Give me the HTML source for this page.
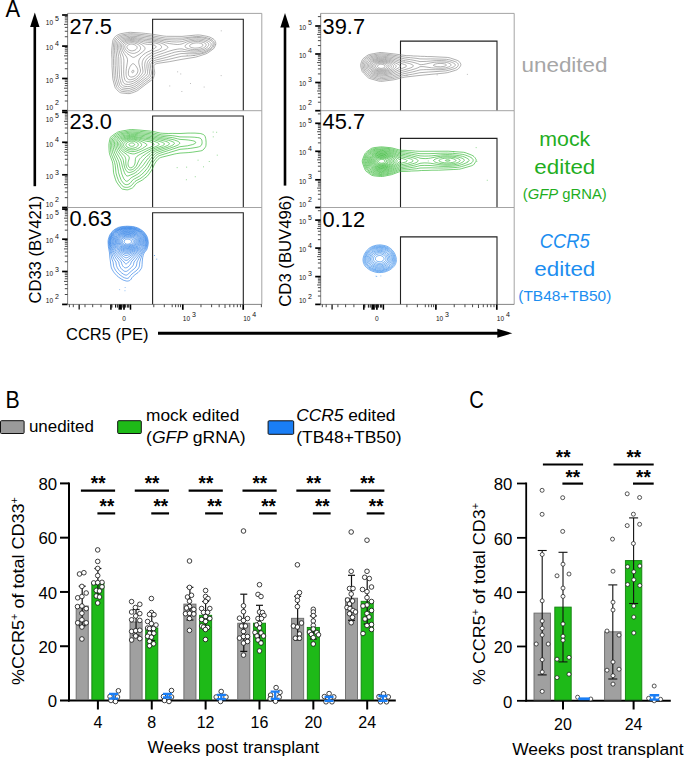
<!DOCTYPE html>
<html><head><meta charset="utf-8"><style>
html,body{margin:0;padding:0;background:#fff;width:685px;height:759px;overflow:hidden}
svg{display:block;font-family:"Liberation Sans", sans-serif}
</style></head><body>
<svg width="685" height="759" viewBox="0 0 685 759">
<text x="5.60" y="16.90" font-size="24.5" text-anchor="start" fill="#000" textLength="14.6" lengthAdjust="spacingAndGlyphs" >A</text>
<line x1="34.80" y1="186.20" x2="34.80" y2="24.60" stroke="#000" stroke-width="2.6" />
<polygon points="34.80,12.60 30.10,27.10 39.50,27.10" fill="#000"/>
<line x1="285.00" y1="185.60" x2="285.00" y2="25.10" stroke="#000" stroke-width="2.6" />
<polygon points="285.00,13.10 280.30,27.60 289.70,27.60" fill="#000"/>
<line x1="158.00" y1="333.20" x2="500.00" y2="333.20" stroke="#000" stroke-width="3" />
<polygon points="512.3,333.2 497.3,328.7 497.3,337.7" fill="#000"/>
<text x="66.00" y="340.00" font-size="16.6" text-anchor="start" fill="#000" textLength="82.6" lengthAdjust="spacingAndGlyphs" >CCR5 (PE)</text>
<text x="41.50" y="249.60" font-size="16.3" text-anchor="middle" fill="#000" textLength="108" lengthAdjust="spacingAndGlyphs" transform="rotate(-90 41.50 249.60)" >CD33 (BV421)</text>
<text x="291.20" y="251.00" font-size="16.3" text-anchor="middle" fill="#000" textLength="111.5" lengthAdjust="spacingAndGlyphs" transform="rotate(-90 291.20 251.00)" >CD3 (BUV496)</text>
<line x1="67.60" y1="13.40" x2="261.80" y2="13.40" stroke="#9a9a9a" stroke-width="0.9" />
<line x1="261.80" y1="13.40" x2="261.80" y2="110.70" stroke="#9a9a9a" stroke-width="0.9" />
<line x1="67.60" y1="13.40" x2="67.60" y2="110.70" stroke="#777" stroke-width="0.9" />
<line x1="62.10" y1="15.00" x2="67.60" y2="15.00" stroke="#000" stroke-width="1.7" />
<text x="45.80" y="25.00" font-size="6.5" fill="#111">10</text>
<text x="54.90" y="20.60" font-size="7" fill="#111">5</text>
<line x1="62.10" y1="46.10" x2="67.60" y2="46.10" stroke="#000" stroke-width="1.7" />
<text x="45.80" y="50.30" font-size="6.5" fill="#111">10</text>
<text x="54.90" y="45.90" font-size="7" fill="#111">4</text>
<line x1="62.10" y1="78.50" x2="67.60" y2="78.50" stroke="#000" stroke-width="1.7" />
<text x="45.80" y="82.90" font-size="6.5" fill="#111">10</text>
<text x="54.90" y="78.50" font-size="7" fill="#111">3</text>
<line x1="62.10" y1="110.70" x2="67.60" y2="110.70" stroke="#000" stroke-width="1.7" />
<text x="45.80" y="109.70" font-size="6.5" fill="#111">10</text>
<text x="54.90" y="105.30" font-size="7" fill="#111">2</text>
<line x1="64.80" y1="36.74" x2="67.60" y2="36.74" stroke="#333" stroke-width="0.9" />
<line x1="64.80" y1="31.26" x2="67.60" y2="31.26" stroke="#333" stroke-width="0.9" />
<line x1="64.80" y1="27.38" x2="67.60" y2="27.38" stroke="#333" stroke-width="0.9" />
<line x1="64.00" y1="24.36" x2="67.60" y2="24.36" stroke="#333" stroke-width="0.9" />
<line x1="64.80" y1="21.90" x2="67.60" y2="21.90" stroke="#333" stroke-width="0.9" />
<line x1="64.80" y1="19.82" x2="67.60" y2="19.82" stroke="#333" stroke-width="0.9" />
<line x1="64.80" y1="18.01" x2="67.60" y2="18.01" stroke="#333" stroke-width="0.9" />
<line x1="64.80" y1="16.42" x2="67.60" y2="16.42" stroke="#333" stroke-width="0.9" />
<line x1="64.80" y1="68.75" x2="67.60" y2="68.75" stroke="#333" stroke-width="0.9" />
<line x1="64.80" y1="63.04" x2="67.60" y2="63.04" stroke="#333" stroke-width="0.9" />
<line x1="64.80" y1="58.99" x2="67.60" y2="58.99" stroke="#333" stroke-width="0.9" />
<line x1="64.00" y1="55.85" x2="67.60" y2="55.85" stroke="#333" stroke-width="0.9" />
<line x1="64.80" y1="53.29" x2="67.60" y2="53.29" stroke="#333" stroke-width="0.9" />
<line x1="64.80" y1="51.12" x2="67.60" y2="51.12" stroke="#333" stroke-width="0.9" />
<line x1="64.80" y1="49.24" x2="67.60" y2="49.24" stroke="#333" stroke-width="0.9" />
<line x1="64.80" y1="47.58" x2="67.60" y2="47.58" stroke="#333" stroke-width="0.9" />
<line x1="64.80" y1="101.01" x2="67.60" y2="101.01" stroke="#333" stroke-width="0.9" />
<line x1="64.80" y1="95.34" x2="67.60" y2="95.34" stroke="#333" stroke-width="0.9" />
<line x1="64.80" y1="91.31" x2="67.60" y2="91.31" stroke="#333" stroke-width="0.9" />
<line x1="64.00" y1="88.19" x2="67.60" y2="88.19" stroke="#333" stroke-width="0.9" />
<line x1="64.80" y1="85.64" x2="67.60" y2="85.64" stroke="#333" stroke-width="0.9" />
<line x1="64.80" y1="83.49" x2="67.60" y2="83.49" stroke="#333" stroke-width="0.9" />
<line x1="64.80" y1="81.62" x2="67.60" y2="81.62" stroke="#333" stroke-width="0.9" />
<line x1="64.80" y1="79.97" x2="67.60" y2="79.97" stroke="#333" stroke-width="0.9" />
<polyline points="152.60,110.70 152.60,19.30 243.30,19.30 243.30,110.70" fill="none" stroke="#222" stroke-width="1.1"/>
<text x="69.50" y="33.60" font-size="21.8" text-anchor="start" fill="#000" >27.5</text>
<line x1="320.70" y1="13.40" x2="514.20" y2="13.40" stroke="#9a9a9a" stroke-width="0.9" />
<line x1="514.20" y1="13.40" x2="514.20" y2="110.70" stroke="#9a9a9a" stroke-width="0.9" />
<line x1="320.70" y1="13.40" x2="320.70" y2="110.70" stroke="#777" stroke-width="0.9" />
<line x1="315.20" y1="26.00" x2="320.70" y2="26.00" stroke="#000" stroke-width="1.7" />
<text x="298.90" y="29.80" font-size="6.5" fill="#111">10</text>
<text x="308.00" y="25.40" font-size="7" fill="#111">5</text>
<line x1="315.20" y1="54.00" x2="320.70" y2="54.00" stroke="#000" stroke-width="1.7" />
<text x="298.90" y="57.80" font-size="6.5" fill="#111">10</text>
<text x="308.00" y="53.40" font-size="7" fill="#111">4</text>
<line x1="315.20" y1="82.50" x2="320.70" y2="82.50" stroke="#000" stroke-width="1.7" />
<text x="298.90" y="86.30" font-size="6.5" fill="#111">10</text>
<text x="308.00" y="81.90" font-size="7" fill="#111">3</text>
<line x1="315.20" y1="110.70" x2="320.70" y2="110.70" stroke="#000" stroke-width="1.7" />
<text x="298.90" y="109.70" font-size="6.5" fill="#111">10</text>
<text x="308.00" y="105.30" font-size="7" fill="#111">2</text>
<line x1="317.90" y1="45.57" x2="320.70" y2="45.57" stroke="#333" stroke-width="0.9" />
<line x1="317.90" y1="40.64" x2="320.70" y2="40.64" stroke="#333" stroke-width="0.9" />
<line x1="317.90" y1="37.14" x2="320.70" y2="37.14" stroke="#333" stroke-width="0.9" />
<line x1="317.10" y1="34.43" x2="320.70" y2="34.43" stroke="#333" stroke-width="0.9" />
<line x1="317.90" y1="32.21" x2="320.70" y2="32.21" stroke="#333" stroke-width="0.9" />
<line x1="317.90" y1="30.34" x2="320.70" y2="30.34" stroke="#333" stroke-width="0.9" />
<line x1="317.90" y1="28.71" x2="320.70" y2="28.71" stroke="#333" stroke-width="0.9" />
<line x1="317.90" y1="27.28" x2="320.70" y2="27.28" stroke="#333" stroke-width="0.9" />
<line x1="317.90" y1="73.92" x2="320.70" y2="73.92" stroke="#333" stroke-width="0.9" />
<line x1="317.90" y1="68.90" x2="320.70" y2="68.90" stroke="#333" stroke-width="0.9" />
<line x1="317.90" y1="65.34" x2="320.70" y2="65.34" stroke="#333" stroke-width="0.9" />
<line x1="317.10" y1="62.58" x2="320.70" y2="62.58" stroke="#333" stroke-width="0.9" />
<line x1="317.90" y1="60.32" x2="320.70" y2="60.32" stroke="#333" stroke-width="0.9" />
<line x1="317.90" y1="58.41" x2="320.70" y2="58.41" stroke="#333" stroke-width="0.9" />
<line x1="317.90" y1="56.76" x2="320.70" y2="56.76" stroke="#333" stroke-width="0.9" />
<line x1="317.90" y1="55.30" x2="320.70" y2="55.30" stroke="#333" stroke-width="0.9" />
<line x1="317.90" y1="102.21" x2="320.70" y2="102.21" stroke="#333" stroke-width="0.9" />
<line x1="317.90" y1="97.25" x2="320.70" y2="97.25" stroke="#333" stroke-width="0.9" />
<line x1="317.90" y1="93.72" x2="320.70" y2="93.72" stroke="#333" stroke-width="0.9" />
<line x1="317.10" y1="90.99" x2="320.70" y2="90.99" stroke="#333" stroke-width="0.9" />
<line x1="317.90" y1="88.76" x2="320.70" y2="88.76" stroke="#333" stroke-width="0.9" />
<line x1="317.90" y1="86.87" x2="320.70" y2="86.87" stroke="#333" stroke-width="0.9" />
<line x1="317.90" y1="85.23" x2="320.70" y2="85.23" stroke="#333" stroke-width="0.9" />
<line x1="317.90" y1="83.79" x2="320.70" y2="83.79" stroke="#333" stroke-width="0.9" />
<line x1="317.90" y1="16.60" x2="320.70" y2="16.60" stroke="#333" stroke-width="0.9" />
<polyline points="400.50,110.70 400.50,41.10 497.00,41.10 497.00,110.70" fill="none" stroke="#222" stroke-width="1.1"/>
<text x="322.60" y="33.70" font-size="21.8" text-anchor="start" fill="#000" >39.7</text>
<line x1="67.60" y1="110.70" x2="261.80" y2="110.70" stroke="#9a9a9a" stroke-width="0.9" />
<line x1="261.80" y1="110.70" x2="261.80" y2="207.50" stroke="#9a9a9a" stroke-width="0.9" />
<line x1="67.60" y1="110.70" x2="67.60" y2="207.50" stroke="#777" stroke-width="0.9" />
<line x1="62.10" y1="112.30" x2="67.60" y2="112.30" stroke="#000" stroke-width="1.7" />
<text x="45.80" y="122.30" font-size="6.5" fill="#111">10</text>
<text x="54.90" y="117.90" font-size="7" fill="#111">5</text>
<line x1="62.10" y1="142.30" x2="67.60" y2="142.30" stroke="#000" stroke-width="1.7" />
<text x="45.80" y="146.50" font-size="6.5" fill="#111">10</text>
<text x="54.90" y="142.10" font-size="7" fill="#111">4</text>
<line x1="62.10" y1="174.80" x2="67.60" y2="174.80" stroke="#000" stroke-width="1.7" />
<text x="45.80" y="179.20" font-size="6.5" fill="#111">10</text>
<text x="54.90" y="174.80" font-size="7" fill="#111">3</text>
<line x1="62.10" y1="207.50" x2="67.60" y2="207.50" stroke="#000" stroke-width="1.7" />
<text x="45.80" y="206.50" font-size="6.5" fill="#111">10</text>
<text x="54.90" y="202.10" font-size="7" fill="#111">2</text>
<line x1="64.80" y1="133.27" x2="67.60" y2="133.27" stroke="#333" stroke-width="0.9" />
<line x1="64.80" y1="127.99" x2="67.60" y2="127.99" stroke="#333" stroke-width="0.9" />
<line x1="64.80" y1="124.24" x2="67.60" y2="124.24" stroke="#333" stroke-width="0.9" />
<line x1="64.00" y1="121.33" x2="67.60" y2="121.33" stroke="#333" stroke-width="0.9" />
<line x1="64.80" y1="118.96" x2="67.60" y2="118.96" stroke="#333" stroke-width="0.9" />
<line x1="64.80" y1="116.95" x2="67.60" y2="116.95" stroke="#333" stroke-width="0.9" />
<line x1="64.80" y1="115.21" x2="67.60" y2="115.21" stroke="#333" stroke-width="0.9" />
<line x1="64.80" y1="113.67" x2="67.60" y2="113.67" stroke="#333" stroke-width="0.9" />
<line x1="64.80" y1="165.02" x2="67.60" y2="165.02" stroke="#333" stroke-width="0.9" />
<line x1="64.80" y1="159.29" x2="67.60" y2="159.29" stroke="#333" stroke-width="0.9" />
<line x1="64.80" y1="155.23" x2="67.60" y2="155.23" stroke="#333" stroke-width="0.9" />
<line x1="64.00" y1="152.08" x2="67.60" y2="152.08" stroke="#333" stroke-width="0.9" />
<line x1="64.80" y1="149.51" x2="67.60" y2="149.51" stroke="#333" stroke-width="0.9" />
<line x1="64.80" y1="147.33" x2="67.60" y2="147.33" stroke="#333" stroke-width="0.9" />
<line x1="64.80" y1="145.45" x2="67.60" y2="145.45" stroke="#333" stroke-width="0.9" />
<line x1="64.80" y1="143.79" x2="67.60" y2="143.79" stroke="#333" stroke-width="0.9" />
<line x1="64.80" y1="197.66" x2="67.60" y2="197.66" stroke="#333" stroke-width="0.9" />
<line x1="64.80" y1="191.90" x2="67.60" y2="191.90" stroke="#333" stroke-width="0.9" />
<line x1="64.80" y1="187.81" x2="67.60" y2="187.81" stroke="#333" stroke-width="0.9" />
<line x1="64.00" y1="184.64" x2="67.60" y2="184.64" stroke="#333" stroke-width="0.9" />
<line x1="64.80" y1="182.05" x2="67.60" y2="182.05" stroke="#333" stroke-width="0.9" />
<line x1="64.80" y1="179.87" x2="67.60" y2="179.87" stroke="#333" stroke-width="0.9" />
<line x1="64.80" y1="177.97" x2="67.60" y2="177.97" stroke="#333" stroke-width="0.9" />
<line x1="64.80" y1="176.30" x2="67.60" y2="176.30" stroke="#333" stroke-width="0.9" />
<polyline points="152.60,207.50 152.60,116.00 243.30,116.00 243.30,207.50" fill="none" stroke="#222" stroke-width="1.1"/>
<text x="69.50" y="129.00" font-size="21.8" text-anchor="start" fill="#000" >23.0</text>
<line x1="320.70" y1="110.70" x2="514.20" y2="110.70" stroke="#9a9a9a" stroke-width="0.9" />
<line x1="514.20" y1="110.70" x2="514.20" y2="207.50" stroke="#9a9a9a" stroke-width="0.9" />
<line x1="320.70" y1="110.70" x2="320.70" y2="207.50" stroke="#777" stroke-width="0.9" />
<line x1="315.20" y1="123.30" x2="320.70" y2="123.30" stroke="#000" stroke-width="1.7" />
<text x="298.90" y="127.10" font-size="6.5" fill="#111">10</text>
<text x="308.00" y="122.70" font-size="7" fill="#111">5</text>
<line x1="315.20" y1="151.30" x2="320.70" y2="151.30" stroke="#000" stroke-width="1.7" />
<text x="298.90" y="155.10" font-size="6.5" fill="#111">10</text>
<text x="308.00" y="150.70" font-size="7" fill="#111">4</text>
<line x1="315.20" y1="179.80" x2="320.70" y2="179.80" stroke="#000" stroke-width="1.7" />
<text x="298.90" y="183.60" font-size="6.5" fill="#111">10</text>
<text x="308.00" y="179.20" font-size="7" fill="#111">3</text>
<line x1="315.20" y1="207.50" x2="320.70" y2="207.50" stroke="#000" stroke-width="1.7" />
<text x="298.90" y="206.50" font-size="6.5" fill="#111">10</text>
<text x="308.00" y="202.10" font-size="7" fill="#111">2</text>
<line x1="317.90" y1="142.87" x2="320.70" y2="142.87" stroke="#333" stroke-width="0.9" />
<line x1="317.90" y1="137.94" x2="320.70" y2="137.94" stroke="#333" stroke-width="0.9" />
<line x1="317.90" y1="134.44" x2="320.70" y2="134.44" stroke="#333" stroke-width="0.9" />
<line x1="317.10" y1="131.73" x2="320.70" y2="131.73" stroke="#333" stroke-width="0.9" />
<line x1="317.90" y1="129.51" x2="320.70" y2="129.51" stroke="#333" stroke-width="0.9" />
<line x1="317.90" y1="127.64" x2="320.70" y2="127.64" stroke="#333" stroke-width="0.9" />
<line x1="317.90" y1="126.01" x2="320.70" y2="126.01" stroke="#333" stroke-width="0.9" />
<line x1="317.90" y1="124.58" x2="320.70" y2="124.58" stroke="#333" stroke-width="0.9" />
<line x1="317.90" y1="171.22" x2="320.70" y2="171.22" stroke="#333" stroke-width="0.9" />
<line x1="317.90" y1="166.20" x2="320.70" y2="166.20" stroke="#333" stroke-width="0.9" />
<line x1="317.90" y1="162.64" x2="320.70" y2="162.64" stroke="#333" stroke-width="0.9" />
<line x1="317.10" y1="159.88" x2="320.70" y2="159.88" stroke="#333" stroke-width="0.9" />
<line x1="317.90" y1="157.62" x2="320.70" y2="157.62" stroke="#333" stroke-width="0.9" />
<line x1="317.90" y1="155.71" x2="320.70" y2="155.71" stroke="#333" stroke-width="0.9" />
<line x1="317.90" y1="154.06" x2="320.70" y2="154.06" stroke="#333" stroke-width="0.9" />
<line x1="317.90" y1="152.60" x2="320.70" y2="152.60" stroke="#333" stroke-width="0.9" />
<line x1="317.90" y1="199.16" x2="320.70" y2="199.16" stroke="#333" stroke-width="0.9" />
<line x1="317.90" y1="194.28" x2="320.70" y2="194.28" stroke="#333" stroke-width="0.9" />
<line x1="317.90" y1="190.82" x2="320.70" y2="190.82" stroke="#333" stroke-width="0.9" />
<line x1="317.10" y1="188.14" x2="320.70" y2="188.14" stroke="#333" stroke-width="0.9" />
<line x1="317.90" y1="185.95" x2="320.70" y2="185.95" stroke="#333" stroke-width="0.9" />
<line x1="317.90" y1="184.09" x2="320.70" y2="184.09" stroke="#333" stroke-width="0.9" />
<line x1="317.90" y1="182.48" x2="320.70" y2="182.48" stroke="#333" stroke-width="0.9" />
<line x1="317.90" y1="181.07" x2="320.70" y2="181.07" stroke="#333" stroke-width="0.9" />
<line x1="317.90" y1="113.90" x2="320.70" y2="113.90" stroke="#333" stroke-width="0.9" />
<polyline points="400.50,207.50 400.50,138.40 497.00,138.40 497.00,207.50" fill="none" stroke="#222" stroke-width="1.1"/>
<text x="322.60" y="128.80" font-size="21.8" text-anchor="start" fill="#000" >45.7</text>
<line x1="67.60" y1="207.50" x2="261.80" y2="207.50" stroke="#9a9a9a" stroke-width="0.9" />
<line x1="261.80" y1="207.50" x2="261.80" y2="304.40" stroke="#9a9a9a" stroke-width="0.9" />
<line x1="67.60" y1="207.50" x2="67.60" y2="304.40" stroke="#777" stroke-width="0.9" />
<line x1="62.10" y1="209.10" x2="67.60" y2="209.10" stroke="#000" stroke-width="1.7" />
<text x="45.80" y="219.10" font-size="6.5" fill="#111">10</text>
<text x="54.90" y="214.70" font-size="7" fill="#111">5</text>
<line x1="62.10" y1="239.20" x2="67.60" y2="239.20" stroke="#000" stroke-width="1.7" />
<text x="45.80" y="243.40" font-size="6.5" fill="#111">10</text>
<text x="54.90" y="239.00" font-size="7" fill="#111">4</text>
<line x1="62.10" y1="271.50" x2="67.60" y2="271.50" stroke="#000" stroke-width="1.7" />
<text x="45.80" y="275.90" font-size="6.5" fill="#111">10</text>
<text x="54.90" y="271.50" font-size="7" fill="#111">3</text>
<line x1="62.10" y1="304.40" x2="67.60" y2="304.40" stroke="#000" stroke-width="1.7" />
<text x="45.80" y="303.40" font-size="6.5" fill="#111">10</text>
<text x="54.90" y="299.00" font-size="7" fill="#111">2</text>
<line x1="64.80" y1="230.14" x2="67.60" y2="230.14" stroke="#333" stroke-width="0.9" />
<line x1="64.80" y1="224.84" x2="67.60" y2="224.84" stroke="#333" stroke-width="0.9" />
<line x1="64.80" y1="221.08" x2="67.60" y2="221.08" stroke="#333" stroke-width="0.9" />
<line x1="64.00" y1="218.16" x2="67.60" y2="218.16" stroke="#333" stroke-width="0.9" />
<line x1="64.80" y1="215.78" x2="67.60" y2="215.78" stroke="#333" stroke-width="0.9" />
<line x1="64.80" y1="213.76" x2="67.60" y2="213.76" stroke="#333" stroke-width="0.9" />
<line x1="64.80" y1="212.02" x2="67.60" y2="212.02" stroke="#333" stroke-width="0.9" />
<line x1="64.80" y1="210.48" x2="67.60" y2="210.48" stroke="#333" stroke-width="0.9" />
<line x1="64.80" y1="261.78" x2="67.60" y2="261.78" stroke="#333" stroke-width="0.9" />
<line x1="64.80" y1="256.09" x2="67.60" y2="256.09" stroke="#333" stroke-width="0.9" />
<line x1="64.80" y1="252.05" x2="67.60" y2="252.05" stroke="#333" stroke-width="0.9" />
<line x1="64.00" y1="248.92" x2="67.60" y2="248.92" stroke="#333" stroke-width="0.9" />
<line x1="64.80" y1="246.37" x2="67.60" y2="246.37" stroke="#333" stroke-width="0.9" />
<line x1="64.80" y1="244.20" x2="67.60" y2="244.20" stroke="#333" stroke-width="0.9" />
<line x1="64.80" y1="242.33" x2="67.60" y2="242.33" stroke="#333" stroke-width="0.9" />
<line x1="64.80" y1="240.68" x2="67.60" y2="240.68" stroke="#333" stroke-width="0.9" />
<line x1="64.80" y1="294.50" x2="67.60" y2="294.50" stroke="#333" stroke-width="0.9" />
<line x1="64.80" y1="288.70" x2="67.60" y2="288.70" stroke="#333" stroke-width="0.9" />
<line x1="64.80" y1="284.59" x2="67.60" y2="284.59" stroke="#333" stroke-width="0.9" />
<line x1="64.00" y1="281.40" x2="67.60" y2="281.40" stroke="#333" stroke-width="0.9" />
<line x1="64.80" y1="278.80" x2="67.60" y2="278.80" stroke="#333" stroke-width="0.9" />
<line x1="64.80" y1="276.60" x2="67.60" y2="276.60" stroke="#333" stroke-width="0.9" />
<line x1="64.80" y1="274.69" x2="67.60" y2="274.69" stroke="#333" stroke-width="0.9" />
<line x1="64.80" y1="273.01" x2="67.60" y2="273.01" stroke="#333" stroke-width="0.9" />
<polyline points="152.60,304.40 152.60,212.80 243.30,212.80 243.30,304.40" fill="none" stroke="#222" stroke-width="1.1"/>
<text x="69.50" y="226.40" font-size="21.8" text-anchor="start" fill="#000" >0.63</text>
<line x1="320.70" y1="207.50" x2="514.20" y2="207.50" stroke="#9a9a9a" stroke-width="0.9" />
<line x1="514.20" y1="207.50" x2="514.20" y2="304.40" stroke="#9a9a9a" stroke-width="0.9" />
<line x1="320.70" y1="207.50" x2="320.70" y2="304.40" stroke="#777" stroke-width="0.9" />
<line x1="315.20" y1="220.10" x2="320.70" y2="220.10" stroke="#000" stroke-width="1.7" />
<text x="298.90" y="223.90" font-size="6.5" fill="#111">10</text>
<text x="308.00" y="219.50" font-size="7" fill="#111">5</text>
<line x1="315.20" y1="248.10" x2="320.70" y2="248.10" stroke="#000" stroke-width="1.7" />
<text x="298.90" y="251.90" font-size="6.5" fill="#111">10</text>
<text x="308.00" y="247.50" font-size="7" fill="#111">4</text>
<line x1="315.20" y1="276.60" x2="320.70" y2="276.60" stroke="#000" stroke-width="1.7" />
<text x="298.90" y="280.40" font-size="6.5" fill="#111">10</text>
<text x="308.00" y="276.00" font-size="7" fill="#111">3</text>
<line x1="315.20" y1="304.40" x2="320.70" y2="304.40" stroke="#000" stroke-width="1.7" />
<text x="298.90" y="303.40" font-size="6.5" fill="#111">10</text>
<text x="308.00" y="299.00" font-size="7" fill="#111">2</text>
<line x1="317.90" y1="239.67" x2="320.70" y2="239.67" stroke="#333" stroke-width="0.9" />
<line x1="317.90" y1="234.74" x2="320.70" y2="234.74" stroke="#333" stroke-width="0.9" />
<line x1="317.90" y1="231.24" x2="320.70" y2="231.24" stroke="#333" stroke-width="0.9" />
<line x1="317.10" y1="228.53" x2="320.70" y2="228.53" stroke="#333" stroke-width="0.9" />
<line x1="317.90" y1="226.31" x2="320.70" y2="226.31" stroke="#333" stroke-width="0.9" />
<line x1="317.90" y1="224.44" x2="320.70" y2="224.44" stroke="#333" stroke-width="0.9" />
<line x1="317.90" y1="222.81" x2="320.70" y2="222.81" stroke="#333" stroke-width="0.9" />
<line x1="317.90" y1="221.38" x2="320.70" y2="221.38" stroke="#333" stroke-width="0.9" />
<line x1="317.90" y1="268.02" x2="320.70" y2="268.02" stroke="#333" stroke-width="0.9" />
<line x1="317.90" y1="263.00" x2="320.70" y2="263.00" stroke="#333" stroke-width="0.9" />
<line x1="317.90" y1="259.44" x2="320.70" y2="259.44" stroke="#333" stroke-width="0.9" />
<line x1="317.10" y1="256.68" x2="320.70" y2="256.68" stroke="#333" stroke-width="0.9" />
<line x1="317.90" y1="254.42" x2="320.70" y2="254.42" stroke="#333" stroke-width="0.9" />
<line x1="317.90" y1="252.51" x2="320.70" y2="252.51" stroke="#333" stroke-width="0.9" />
<line x1="317.90" y1="250.86" x2="320.70" y2="250.86" stroke="#333" stroke-width="0.9" />
<line x1="317.90" y1="249.40" x2="320.70" y2="249.40" stroke="#333" stroke-width="0.9" />
<line x1="317.90" y1="296.03" x2="320.70" y2="296.03" stroke="#333" stroke-width="0.9" />
<line x1="317.90" y1="291.14" x2="320.70" y2="291.14" stroke="#333" stroke-width="0.9" />
<line x1="317.90" y1="287.66" x2="320.70" y2="287.66" stroke="#333" stroke-width="0.9" />
<line x1="317.10" y1="284.97" x2="320.70" y2="284.97" stroke="#333" stroke-width="0.9" />
<line x1="317.90" y1="282.77" x2="320.70" y2="282.77" stroke="#333" stroke-width="0.9" />
<line x1="317.90" y1="280.91" x2="320.70" y2="280.91" stroke="#333" stroke-width="0.9" />
<line x1="317.90" y1="279.29" x2="320.70" y2="279.29" stroke="#333" stroke-width="0.9" />
<line x1="317.90" y1="277.87" x2="320.70" y2="277.87" stroke="#333" stroke-width="0.9" />
<line x1="317.90" y1="210.70" x2="320.70" y2="210.70" stroke="#333" stroke-width="0.9" />
<polyline points="400.50,304.40 400.50,236.90 497.00,236.90 497.00,304.40" fill="none" stroke="#222" stroke-width="1.1"/>
<text x="322.60" y="226.60" font-size="21.8" text-anchor="start" fill="#000" >0.12</text>
<line x1="67.60" y1="304.40" x2="261.80" y2="304.40" stroke="#777" stroke-width="0.9" />
<line x1="124.00" y1="304.40" x2="124.00" y2="309.80" stroke="#000" stroke-width="1.7" />
<line x1="182.80" y1="304.40" x2="182.80" y2="309.80" stroke="#000" stroke-width="1.7" />
<line x1="243.20" y1="304.40" x2="243.20" y2="309.80" stroke="#000" stroke-width="1.7" />
<line x1="200.98" y1="304.40" x2="200.98" y2="307.20" stroke="#333" stroke-width="0.9" />
<line x1="211.62" y1="304.40" x2="211.62" y2="307.20" stroke="#333" stroke-width="0.9" />
<line x1="219.16" y1="304.40" x2="219.16" y2="307.20" stroke="#333" stroke-width="0.9" />
<line x1="225.02" y1="304.40" x2="225.02" y2="308.00" stroke="#333" stroke-width="0.9" />
<line x1="229.80" y1="304.40" x2="229.80" y2="307.20" stroke="#333" stroke-width="0.9" />
<line x1="233.84" y1="304.40" x2="233.84" y2="307.20" stroke="#333" stroke-width="0.9" />
<line x1="237.35" y1="304.40" x2="237.35" y2="307.20" stroke="#333" stroke-width="0.9" />
<line x1="240.44" y1="304.40" x2="240.44" y2="307.20" stroke="#333" stroke-width="0.9" />
<line x1="261.38" y1="304.40" x2="261.38" y2="307.20" stroke="#333" stroke-width="0.9" />
<line x1="172.20" y1="304.40" x2="172.20" y2="307.20" stroke="#333" stroke-width="0.9" />
<line x1="175.60" y1="304.40" x2="175.60" y2="307.20" stroke="#333" stroke-width="0.9" />
<line x1="178.30" y1="304.40" x2="178.30" y2="307.20" stroke="#333" stroke-width="0.9" />
<line x1="180.50" y1="304.40" x2="180.50" y2="307.20" stroke="#333" stroke-width="0.9" />
<line x1="164.30" y1="304.40" x2="164.30" y2="307.20" stroke="#333" stroke-width="0.9" />
<line x1="153.80" y1="304.40" x2="153.80" y2="307.20" stroke="#333" stroke-width="0.9" />
<line x1="110.90" y1="304.40" x2="110.90" y2="309.70" stroke="#000" stroke-width="1.5" />
<line x1="130.50" y1="304.40" x2="130.50" y2="309.70" stroke="#000" stroke-width="1.5" />
<rect x="118.50" y="304.40" width="3.4" height="5.3" fill="#000"/>
<line x1="111.90" y1="304.40" x2="111.90" y2="307.60" stroke="#111" stroke-width="1.0" />
<line x1="115.50" y1="304.40" x2="115.50" y2="307.60" stroke="#111" stroke-width="1.0" />
<line x1="117.30" y1="304.40" x2="117.30" y2="307.60" stroke="#111" stroke-width="1.0" />
<line x1="122.90" y1="304.40" x2="122.90" y2="307.60" stroke="#111" stroke-width="1.0" />
<line x1="124.40" y1="304.40" x2="124.40" y2="307.60" stroke="#111" stroke-width="1.0" />
<line x1="125.70" y1="304.40" x2="125.70" y2="307.60" stroke="#111" stroke-width="1.0" />
<line x1="127.70" y1="304.40" x2="127.70" y2="307.60" stroke="#111" stroke-width="1.0" />
<line x1="128.80" y1="304.40" x2="128.80" y2="307.60" stroke="#111" stroke-width="1.0" />
<line x1="69.40" y1="304.40" x2="69.40" y2="307.20" stroke="#333" stroke-width="0.9" />
<line x1="73.30" y1="304.40" x2="73.30" y2="307.20" stroke="#333" stroke-width="0.9" />
<line x1="79.20" y1="304.40" x2="79.20" y2="309.40" stroke="#333" stroke-width="1.5" />
<line x1="85.00" y1="304.40" x2="85.00" y2="307.20" stroke="#333" stroke-width="0.9" />
<line x1="92.70" y1="304.40" x2="92.70" y2="307.20" stroke="#333" stroke-width="0.9" />
<line x1="101.00" y1="304.40" x2="101.00" y2="307.20" stroke="#333" stroke-width="0.9" />
<text x="124.00" y="320.80" font-size="6.6" text-anchor="middle" fill="#222">0</text>
<text x="182.80" y="320.80" font-size="6.5" fill="#111">10</text>
<text x="191.90" y="317.10" font-size="7" fill="#111">3</text>
<text x="243.20" y="320.80" font-size="6.5" fill="#111">10</text>
<text x="252.30" y="317.10" font-size="7" fill="#111">4</text>
<line x1="320.70" y1="304.40" x2="514.20" y2="304.40" stroke="#777" stroke-width="0.9" />
<line x1="376.90" y1="304.40" x2="376.90" y2="309.80" stroke="#000" stroke-width="1.7" />
<line x1="435.90" y1="304.40" x2="435.90" y2="309.80" stroke="#000" stroke-width="1.7" />
<line x1="496.80" y1="304.40" x2="496.80" y2="309.80" stroke="#000" stroke-width="1.7" />
<line x1="454.23" y1="304.40" x2="454.23" y2="307.20" stroke="#333" stroke-width="0.9" />
<line x1="464.96" y1="304.40" x2="464.96" y2="307.20" stroke="#333" stroke-width="0.9" />
<line x1="472.57" y1="304.40" x2="472.57" y2="307.20" stroke="#333" stroke-width="0.9" />
<line x1="478.47" y1="304.40" x2="478.47" y2="308.00" stroke="#333" stroke-width="0.9" />
<line x1="483.29" y1="304.40" x2="483.29" y2="307.20" stroke="#333" stroke-width="0.9" />
<line x1="487.37" y1="304.40" x2="487.37" y2="307.20" stroke="#333" stroke-width="0.9" />
<line x1="490.90" y1="304.40" x2="490.90" y2="307.20" stroke="#333" stroke-width="0.9" />
<line x1="494.01" y1="304.40" x2="494.01" y2="307.20" stroke="#333" stroke-width="0.9" />
<line x1="425.30" y1="304.40" x2="425.30" y2="307.20" stroke="#333" stroke-width="0.9" />
<line x1="428.70" y1="304.40" x2="428.70" y2="307.20" stroke="#333" stroke-width="0.9" />
<line x1="431.40" y1="304.40" x2="431.40" y2="307.20" stroke="#333" stroke-width="0.9" />
<line x1="433.60" y1="304.40" x2="433.60" y2="307.20" stroke="#333" stroke-width="0.9" />
<line x1="417.40" y1="304.40" x2="417.40" y2="307.20" stroke="#333" stroke-width="0.9" />
<line x1="406.90" y1="304.40" x2="406.90" y2="307.20" stroke="#333" stroke-width="0.9" />
<line x1="363.80" y1="304.40" x2="363.80" y2="309.70" stroke="#000" stroke-width="1.5" />
<line x1="383.40" y1="304.40" x2="383.40" y2="309.70" stroke="#000" stroke-width="1.5" />
<rect x="371.40" y="304.40" width="3.4" height="5.3" fill="#000"/>
<line x1="364.80" y1="304.40" x2="364.80" y2="307.60" stroke="#111" stroke-width="1.0" />
<line x1="368.40" y1="304.40" x2="368.40" y2="307.60" stroke="#111" stroke-width="1.0" />
<line x1="370.20" y1="304.40" x2="370.20" y2="307.60" stroke="#111" stroke-width="1.0" />
<line x1="375.80" y1="304.40" x2="375.80" y2="307.60" stroke="#111" stroke-width="1.0" />
<line x1="377.30" y1="304.40" x2="377.30" y2="307.60" stroke="#111" stroke-width="1.0" />
<line x1="378.60" y1="304.40" x2="378.60" y2="307.60" stroke="#111" stroke-width="1.0" />
<line x1="380.60" y1="304.40" x2="380.60" y2="307.60" stroke="#111" stroke-width="1.0" />
<line x1="381.70" y1="304.40" x2="381.70" y2="307.60" stroke="#111" stroke-width="1.0" />
<line x1="322.30" y1="304.40" x2="322.30" y2="307.20" stroke="#333" stroke-width="0.9" />
<line x1="326.20" y1="304.40" x2="326.20" y2="307.20" stroke="#333" stroke-width="0.9" />
<line x1="332.10" y1="304.40" x2="332.10" y2="309.40" stroke="#333" stroke-width="1.5" />
<line x1="337.90" y1="304.40" x2="337.90" y2="307.20" stroke="#333" stroke-width="0.9" />
<line x1="345.60" y1="304.40" x2="345.60" y2="307.20" stroke="#333" stroke-width="0.9" />
<line x1="353.90" y1="304.40" x2="353.90" y2="307.20" stroke="#333" stroke-width="0.9" />
<text x="376.90" y="320.80" font-size="6.6" text-anchor="middle" fill="#222">0</text>
<text x="435.90" y="320.80" font-size="6.5" fill="#111">10</text>
<text x="445.00" y="317.10" font-size="7" fill="#111">3</text>
<text x="496.80" y="320.80" font-size="6.5" fill="#111">10</text>
<text x="505.90" y="317.10" font-size="7" fill="#111">4</text>
<path d="M130.0,93.5 129.0,93.6 127.8,93.6 121.8,93.0 120.5,92.7 119.8,92.3 119.2,92.0 118.2,91.1 116.5,89.3 115.8,88.5 115.3,87.8 114.7,86.2 113.1,80.2 112.8,78.8 112.6,76.0 112.0,65.8 112.0,59.0 111.7,54.5 111.7,50.8 111.8,49.0 112.5,42.2 112.7,41.2 112.9,40.2 113.5,39.0 114.7,37.2 115.6,36.2 116.6,35.5 119.0,34.3 120.8,33.7 127.2,32.6 129.0,32.4 130.2,32.3 141.2,33.0 145.2,33.4 152.0,34.2 164.0,36.1 166.5,36.3 182.0,36.4 195.5,35.1 198.0,35.0 199.2,35.0 201.0,35.2 206.8,36.3 208.5,36.7 209.8,37.1 211.5,37.9 213.2,38.9 214.0,39.5 214.8,40.5 215.3,41.5 215.6,42.2 215.7,43.0 215.8,43.5 215.6,44.5 215.3,45.5 214.7,47.0 214.2,47.9 213.5,48.8 212.0,49.9 207.8,52.9 206.0,53.8 198.2,56.4 195.2,57.2 182.0,59.3 169.2,61.7 158.0,63.3 156.2,63.7 155.1,64.2 154.5,64.8 154.2,65.2 154.0,65.8 153.9,66.5 154.0,68.2 154.7,72.2 154.7,73.2 154.6,74.0 154.3,75.2 153.6,77.5 153.1,78.5 152.6,79.2 151.2,80.4 146.2,84.0 139.2,89.4 137.8,90.5 136.5,91.2 134.5,92.0 131.5,93.1 130.0,93.5Z M129.2,92.0 127.2,92.0 122.2,91.4 121.0,91.1 120.3,90.8 119.8,90.3 117.7,88.2 117.1,87.5 116.7,86.8 116.0,85.0 114.5,79.5 114.3,78.2 114.1,75.5 113.6,65.5 113.5,58.5 113.2,55.0 113.1,51.2 113.3,47.8 113.8,42.5 114.0,41.5 114.3,40.5 115.0,39.3 115.9,38.0 116.8,37.2 117.8,36.5 119.8,35.5 121.5,35.0 127.2,34.0 129.0,33.8 130.2,33.7 133.2,33.8 137.0,34.1 144.8,34.8 150.2,35.5 164.0,37.8 165.5,38.0 167.2,38.1 175.2,38.2 182.0,38.1 192.5,36.9 196.8,36.5 199.0,36.5 200.8,36.7 204.5,37.3 207.2,37.9 209.0,38.4 210.8,39.2 212.2,40.0 213.0,40.8 213.8,41.7 214.0,42.2 214.3,43.0 214.3,43.5 214.3,44.2 214.1,45.0 213.8,46.0 213.4,46.8 212.9,47.5 211.8,48.7 209.0,50.6 206.8,52.0 205.0,52.8 198.5,54.6 195.0,55.3 190.5,55.8 181.8,56.3 178.0,57.1 168.5,59.4 157.0,61.7 155.5,62.1 154.1,62.8 153.4,63.2 152.9,63.8 152.5,64.5 152.3,65.2 152.2,66.2 152.3,67.2 153.0,72.0 153.0,73.5 152.8,74.8 152.2,76.5 151.7,77.5 151.2,78.2 150.0,79.4 145.5,82.7 138.8,87.9 137.0,89.1 135.5,89.9 132.5,91.0 130.5,91.8 129.2,92.0Z M129.5,90.3 128.5,90.4 127.5,90.3 123.0,89.8 121.8,89.5 121.2,89.2 120.5,88.7 119.0,87.2 118.5,86.5 118.1,85.8 117.5,84.0 116.2,79.2 116.0,78.0 115.8,75.2 115.2,65.5 115.1,58.2 114.8,54.5 114.5,50.5 114.6,47.2 115.0,43.1 115.2,41.9 115.6,41.0 116.1,40.0 117.0,38.9 117.8,38.2 118.8,37.5 119.8,37.0 120.8,36.6 122.8,36.0 127.2,35.2 129.2,35.0 130.8,34.9 132.8,35.0 136.1,35.2 141.2,35.8 150.0,36.9 165.0,39.5 168.0,39.7 172.0,39.9 177.0,40.0 181.2,39.8 182.5,39.6 188.5,38.4 191.2,38.0 196.5,37.5 199.0,37.5 201.2,37.8 203.9,38.2 206.2,38.8 208.2,39.4 209.8,40.0 211.1,40.8 212.0,41.4 212.8,42.4 213.0,43.0 213.1,43.5 213.0,44.8 212.6,46.0 212.2,46.7 211.8,47.2 210.4,48.5 207.8,50.3 205.8,51.4 204.0,52.1 201.5,52.8 200.0,53.1 197.5,53.5 195.0,53.7 193.0,53.8 190.0,53.8 182.0,53.5 179.8,53.8 175.5,54.8 166.8,57.3 156.8,59.8 155.0,60.3 153.5,61.1 152.4,61.8 151.7,62.5 151.0,63.5 150.7,64.5 150.6,65.5 150.6,67.0 150.8,68.8 151.3,72.0 151.3,73.2 151.2,74.2 150.9,75.2 150.5,76.2 150.0,77.0 149.5,77.6 148.7,78.2 144.5,81.4 138.8,85.9 136.5,87.5 135.5,88.1 134.0,88.7 131.0,89.8 129.5,90.3Z M129.0,88.5 128.0,88.6 127.0,88.5 123.8,88.1 122.5,87.8 121.8,87.3 121.2,86.9 120.2,85.8 119.5,84.5 118.5,81.1 117.9,78.8 117.5,74.8 117.0,65.2 116.9,58.0 116.0,50.8 116.0,49.0 116.0,47.0 116.1,45.2 116.3,43.5 116.6,42.5 116.9,41.5 117.5,40.5 118.1,39.8 119.0,39.0 119.8,38.5 121.0,37.9 122.2,37.5 126.5,36.6 129.8,36.2 133.0,36.3 137.2,36.6 146.8,38.0 150.0,38.3 158.2,39.7 164.5,40.9 166.5,41.2 171.8,41.8 176.5,42.0 179.2,41.9 182.0,41.6 188.0,40.0 192.0,39.3 195.5,38.9 198.8,38.9 200.8,39.1 203.0,39.5 205.2,40.0 207.0,40.6 208.2,41.1 209.4,41.8 210.3,42.5 210.9,43.2 211.1,43.8 211.2,44.2 211.1,45.2 210.7,46.2 209.9,47.2 208.5,48.5 206.9,49.5 205.2,50.3 203.5,50.9 201.5,51.4 199.0,51.8 196.8,52.1 194.5,52.3 192.0,52.2 189.2,52.1 186.2,51.8 182.0,51.2 180.0,51.3 178.0,51.6 174.8,52.2 171.5,53.2 162.4,56.0 156.2,57.8 154.8,58.4 153.2,59.1 151.8,60.0 150.6,61.0 149.7,62.2 149.1,63.5 148.9,65.0 148.8,66.8 149.0,68.5 149.5,71.8 149.6,73.0 149.5,73.8 149.2,74.6 149.0,75.2 148.5,76.0 147.5,77.0 140.2,82.7 136.0,85.9 134.8,86.6 133.5,87.1 130.5,88.2 129.0,88.5Z M129.2,86.5 127.5,86.6 124.8,86.3 123.5,85.9 122.5,85.3 121.8,84.5 121.2,83.4 120.3,80.2 119.8,78.2 119.4,74.2 118.9,64.8 118.8,58.0 118.6,56.5 117.6,50.8 117.4,48.8 117.4,47.0 117.6,44.2 117.8,43.2 118.2,42.2 118.5,41.5 119.1,40.8 119.8,40.2 120.8,39.5 121.9,39.0 123.2,38.6 125.5,38.1 127.8,37.6 130.5,37.4 133.8,37.5 137.5,37.9 146.2,39.4 150.0,39.7 156.2,40.6 159.7,41.2 165.2,42.7 169.5,43.6 173.8,44.2 177.2,44.5 179.5,44.4 182.0,43.9 184.7,42.8 186.6,42.0 188.8,41.3 191.0,40.8 193.0,40.5 194.8,40.3 196.8,40.1 198.5,40.1 200.0,40.3 201.8,40.6 203.5,41.0 205.2,41.5 206.4,42.0 207.4,42.5 208.0,43.0 208.6,43.8 208.8,44.5 208.8,45.0 208.6,45.5 208.0,46.5 207.2,47.3 206.0,48.2 204.8,49.0 203.2,49.6 201.5,50.0 199.5,50.4 197.2,50.8 195.2,50.9 193.2,50.9 190.5,50.7 187.8,50.3 184.8,49.6 182.0,48.9 179.8,48.9 177.8,49.1 174.0,49.8 169.0,51.2 164.3,52.8 156.8,55.3 155.0,56.0 153.5,56.7 151.2,58.1 149.2,59.8 148.1,61.0 147.4,62.5 147.2,63.2 147.0,64.2 146.9,66.2 147.0,68.2 147.6,71.8 147.6,72.8 147.5,73.5 147.3,74.0 146.7,75.0 145.7,76.0 140.1,80.8 138.2,82.2 136.0,83.8 134.8,84.6 133.5,85.2 131.0,86.1 129.2,86.5Z M130.0,84.3 128.5,84.5 127.0,84.4 125.2,84.1 124.2,83.6 123.6,83.0 123.2,82.2 122.7,80.8 122.0,78.5 121.7,76.8 121.5,74.0 121.2,64.5 121.1,60.2 121.0,58.2 120.6,56.2 119.2,50.8 118.9,49.2 118.8,47.8 118.8,45.8 119.1,43.8 119.6,42.5 120.3,41.5 121.3,40.8 122.8,40.1 124.5,39.5 127.0,38.9 128.8,38.6 130.5,38.5 132.5,38.5 134.5,38.6 137.8,39.1 145.8,40.7 147.8,40.9 150.0,41.1 153.8,41.5 156.0,41.8 158.2,42.3 160.8,43.0 163.3,44.0 166.1,45.5 166.9,46.0 167.4,46.5 167.8,47.0 167.9,47.2 167.8,47.8 167.5,48.2 166.6,49.0 165.1,49.8 163.4,50.5 156.2,53.0 154.0,53.9 152.8,54.6 151.5,55.3 150.0,56.4 148.7,57.2 147.5,58.2 146.6,59.2 145.8,60.5 145.2,61.8 144.9,63.2 144.7,64.8 144.8,66.8 145.4,72.0 145.3,73.0 144.9,73.8 143.8,75.0 140.2,78.5 138.5,80.0 137.0,81.1 135.0,82.4 133.5,83.2 132.0,83.7 130.0,84.3Z M196.8,49.5 194.5,49.6 192.5,49.5 190.2,49.1 188.2,48.6 186.8,48.1 185.7,47.5 185.5,47.2 185.1,46.8 185.0,46.5 185.0,46.0 185.4,45.2 186.2,44.5 187.3,43.8 188.8,43.0 190.2,42.5 192.0,42.0 193.8,41.7 195.5,41.5 197.2,41.4 198.8,41.4 200.2,41.6 201.9,42.0 203.5,42.5 204.6,43.0 205.5,43.6 206.0,44.2 206.2,45.0 206.0,45.5 205.8,46.0 204.9,47.0 203.8,47.8 202.5,48.3 200.8,48.9 198.8,49.3 196.8,49.5Z M130.2,82.0 128.8,82.1 127.8,82.1 126.8,81.8 126.1,81.5 125.6,81.0 125.1,80.2 124.6,79.0 124.3,77.8 123.9,75.8 123.7,73.2 123.7,69.5 123.9,61.8 123.9,60.2 123.7,58.8 123.5,57.5 123.1,56.2 121.5,52.5 120.9,50.8 120.4,49.0 120.2,47.5 120.2,46.0 120.4,44.5 120.7,43.5 121.2,42.6 122.0,41.9 123.0,41.3 124.4,40.8 126.2,40.2 128.0,39.8 129.5,39.6 131.0,39.5 132.8,39.5 135.2,39.8 137.2,40.1 139.9,40.8 143.8,41.8 145.8,42.2 147.8,42.4 150.0,42.5 153.8,42.9 155.8,43.2 157.0,43.5 158.5,44.0 159.6,44.5 160.3,45.0 160.9,45.5 161.3,46.0 161.5,46.5 161.6,47.0 161.5,47.5 161.2,48.0 160.5,48.8 159.7,49.2 158.7,49.8 154.0,51.4 152.0,52.4 150.0,53.7 148.5,54.4 147.0,55.3 145.6,56.5 144.4,57.8 143.5,59.0 142.9,60.2 142.4,61.5 142.2,62.8 142.1,64.0 142.2,65.5 143.0,71.0 142.9,72.0 142.8,72.5 142.5,73.1 141.5,74.5 139.6,76.8 138.2,78.0 136.8,79.2 135.2,80.2 133.5,81.1 132.0,81.7 130.2,82.0Z M197.2,48.0 195.8,48.1 194.2,48.1 193.0,47.9 191.8,47.7 190.7,47.2 189.9,46.8 189.6,46.2 189.6,45.8 189.8,45.2 190.3,44.8 191.0,44.2 191.8,43.9 193.8,43.2 196.2,42.9 198.5,42.9 200.4,43.2 201.2,43.5 202.2,44.0 202.5,44.2 202.9,44.8 203.0,45.2 202.8,45.8 202.4,46.2 201.7,46.8 200.8,47.2 199.9,47.5 198.8,47.8 197.2,48.0Z M131.8,79.5 130.5,79.7 129.5,79.7 128.8,79.5 128.0,79.2 127.5,78.8 127.1,78.2 126.8,77.6 126.5,76.8 126.2,75.5 126.1,74.2 126.0,73.0 126.1,71.2 126.3,68.8 127.4,62.2 127.5,61.0 127.5,59.8 127.2,58.2 126.6,57.0 126.0,56.0 124.2,53.5 123.2,51.9 122.5,50.5 122.0,49.2 121.6,47.5 121.6,46.0 121.7,45.2 121.8,44.5 122.4,43.5 123.0,42.9 124.0,42.2 125.2,41.7 126.8,41.2 128.2,40.8 129.8,40.6 131.2,40.5 132.8,40.6 135.2,40.9 137.5,41.4 139.8,42.0 144.2,43.7 145.8,44.1 147.8,44.4 150.0,44.3 152.2,44.7 154.2,45.1 155.0,45.4 155.5,45.8 155.9,46.2 156.0,46.8 155.8,47.4 155.2,48.0 154.4,48.5 151.8,49.9 150.0,50.9 147.8,51.8 145.5,53.1 143.9,54.2 142.4,55.5 141.1,56.8 140.1,58.0 139.5,59.0 139.0,60.0 138.8,61.0 138.7,62.2 139.0,64.2 140.2,68.7 140.5,70.0 140.5,71.2 140.3,72.2 139.6,73.5 138.8,74.8 137.8,76.0 136.8,77.0 135.5,78.0 134.2,78.7 133.0,79.2 131.8,79.5Z M134.2,57.3 133.5,57.4 132.8,57.3 132.0,56.9 129.8,55.4 128.0,54.2 126.8,53.2 125.5,51.9 124.6,50.8 124.0,49.8 123.5,48.7 123.2,47.5 123.1,46.5 123.1,45.5 123.4,44.8 123.9,44.0 124.5,43.5 125.4,43.0 126.6,42.5 128.0,42.0 129.2,41.8 130.5,41.6 131.8,41.6 133.0,41.6 134.5,41.8 136.0,42.2 137.1,42.5 138.8,43.1 140.1,43.8 141.5,44.5 142.9,45.5 143.8,46.2 144.5,47.0 144.8,47.5 145.0,48.0 145.0,48.8 144.9,49.2 144.6,49.8 143.8,50.8 142.1,52.2 140.0,53.8 135.5,56.6 134.2,57.3Z M132.0,77.0 131.0,77.1 130.2,76.9 129.5,76.5 129.0,76.0 128.7,75.2 128.4,74.2 128.4,73.2 128.4,72.0 128.6,70.5 129.0,69.1 129.5,67.8 130.2,66.4 131.2,64.9 132.0,64.1 132.8,63.7 133.2,63.7 134.0,64.0 134.8,64.7 135.8,65.8 136.6,67.0 137.2,68.1 137.7,69.2 137.9,70.2 137.9,71.0 137.7,72.0 137.3,73.0 136.7,74.0 135.9,75.0 135.1,75.8 134.2,76.3 133.2,76.7 132.0,77.0Z M134.5,53.3 133.5,53.4 132.5,53.4 131.5,53.2 130.5,52.9 129.5,52.5 128.5,52.0 127.5,51.3 126.8,50.7 126.0,49.9 125.5,49.1 125.0,48.2 124.8,47.5 124.7,46.8 124.8,46.0 125.1,45.2 125.5,44.8 126.1,44.2 126.8,43.9 128.5,43.2 130.2,42.8 132.2,42.7 134.2,43.0 136.2,43.6 138.1,44.5 139.4,45.5 140.1,46.5 140.5,47.5 140.6,48.0 140.5,48.8 140.1,49.8 139.3,50.8 138.0,51.8 136.2,52.7 134.5,53.3Z M132.8,72.8 132.2,72.7 132.0,72.5 131.8,72.0 131.8,71.5 132.0,71.0 132.5,70.4 132.8,70.2 133.2,70.2 133.5,70.3 133.8,70.7 133.8,71.0 133.8,71.5 133.8,71.8 133.5,72.3 133.2,72.5 132.8,72.8Z M132.8,50.8 131.2,50.8 130.0,50.5 128.8,49.9 127.8,49.0 127.2,48.2 127.0,47.8 126.9,47.2 126.9,46.8 127.0,46.2 127.6,45.5 128.2,45.0 129.3,44.5 130.5,44.2 131.8,44.1 133.0,44.2 134.2,44.6 135.2,45.0 136.3,45.8 136.9,46.5 137.1,47.2 137.1,48.0 136.7,48.8 136.0,49.5 135.2,50.0 134.0,50.5 132.8,50.8Z" fill="none" stroke="#858585" stroke-width="0.65" stroke-linejoin="round"/>
<path d="M127.5,189.8 126.8,189.8 125.8,189.7 123.0,189.2 122.2,189.0 121.8,188.7 120.8,187.8 117.9,184.0 116.5,181.9 115.6,179.8 114.0,174.5 113.7,173.2 113.5,172.2 113.3,169.0 113.1,166.0 112.8,163.8 112.3,161.5 110.0,155.3 109.6,153.8 109.3,152.5 109.1,150.2 108.9,145.8 108.9,144.8 109.0,143.5 109.7,139.8 110.1,138.2 110.4,137.5 110.9,136.8 111.5,136.2 112.5,135.5 116.5,132.8 117.5,132.2 118.6,131.8 120.5,131.3 128.8,129.8 130.2,129.6 131.5,129.5 140.0,130.1 150.5,131.1 153.8,131.6 160.5,133.1 162.8,133.3 168.2,133.5 172.2,133.4 180.0,133.5 188.0,133.1 190.2,133.1 195.0,133.1 199.2,133.4 200.8,133.6 202.8,134.3 203.8,134.8 204.2,135.1 204.6,135.5 205.0,136.2 205.3,137.0 205.7,138.5 205.9,139.8 206.1,142.2 206.0,145.2 205.7,146.5 205.1,147.5 204.0,149.0 202.8,150.1 202.0,150.6 200.8,150.9 192.2,152.2 188.2,152.6 180.0,153.1 176.2,153.7 174.2,154.1 162.2,157.1 160.5,157.6 159.5,158.1 158.8,158.6 158.0,159.3 156.4,161.2 155.3,162.8 154.4,164.2 152.4,168.8 151.5,170.4 149.0,174.0 147.6,175.8 144.5,178.3 142.4,180.0 141.0,180.8 137.7,182.5 136.6,183.2 135.6,184.2 133.7,186.8 132.6,187.8 131.5,188.4 129.5,189.2 128.5,189.6 127.5,189.8Z M127.8,187.3 126.5,187.4 125.2,187.3 124.0,187.0 123.0,186.5 122.2,185.8 121.2,184.5 119.3,182.0 118.5,180.6 118.0,179.2 117.1,176.8 116.0,173.0 115.9,172.0 115.2,165.2 114.6,162.5 113.9,160.5 111.5,154.5 111.0,152.8 110.5,149.2 110.2,145.0 110.5,142.8 110.9,140.2 111.2,139.2 111.6,138.2 111.9,137.8 112.4,137.2 113.5,136.4 116.5,134.3 118.3,133.2 119.2,132.9 120.2,132.6 129.5,131.0 131.0,130.8 132.5,130.8 139.5,131.3 150.0,132.4 153.0,132.9 159.0,134.3 161.2,134.8 163.0,135.0 172.8,135.7 178.0,136.5 180.0,136.9 189.8,137.0 194.2,137.2 197.8,137.6 199.0,137.8 200.0,138.1 200.8,138.6 201.3,139.2 201.8,140.1 202.0,141.5 202.1,142.8 201.9,144.0 201.5,145.0 201.0,145.7 200.3,146.2 199.5,146.6 198.5,146.9 197.0,147.3 190.8,148.3 187.5,148.7 180.0,149.3 175.0,150.8 168.5,152.8 161.2,155.0 159.2,155.7 158.0,156.4 157.2,157.0 156.5,157.8 153.6,161.5 152.5,163.3 150.0,168.5 147.2,172.5 146.0,174.0 143.4,176.2 141.0,178.1 139.5,179.0 136.2,180.7 135.0,181.5 134.0,182.5 132.2,184.8 131.2,185.7 129.8,186.6 128.8,187.0 127.8,187.3Z M127.8,184.5 126.8,184.7 125.8,184.6 125.0,184.4 124.2,184.0 123.5,183.2 122.5,182.0 121.4,180.5 120.8,179.2 119.6,176.0 118.6,172.8 118.4,171.5 118.2,170.0 117.8,168.0 117.4,165.0 116.7,162.2 115.9,160.0 113.1,153.8 112.5,151.8 111.9,148.8 111.6,145.2 111.7,143.0 112.3,140.0 112.8,138.9 113.5,138.0 115.1,136.8 117.5,135.1 119.1,134.2 120.8,133.8 125.2,132.9 130.0,132.1 132.2,132.0 138.8,132.5 150.0,133.7 152.5,134.2 160.5,136.1 172.8,137.7 177.5,138.8 180.0,139.4 185.0,139.7 188.2,140.0 190.2,140.3 192.2,140.6 193.8,141.0 195.0,141.5 195.6,142.0 195.8,142.2 195.8,142.5 195.8,142.8 195.4,143.2 194.0,144.0 192.5,144.6 190.0,145.2 187.5,145.8 180.0,146.7 168.2,150.6 160.7,153.0 158.5,153.8 157.2,154.5 156.2,155.2 155.4,156.0 152.4,159.8 151.1,161.8 149.2,165.2 148.0,167.3 147.1,168.5 144.1,172.2 141.5,174.5 139.5,176.1 138.0,177.0 134.6,178.8 133.4,179.5 132.2,180.6 130.7,182.5 130.0,183.3 129.0,184.0 127.8,184.5Z M126.8,181.3 126.2,181.2 125.9,181.0 125.0,180.2 123.9,178.8 123.0,177.0 121.9,174.2 121.3,172.2 120.9,170.0 120.3,168.0 119.5,164.0 118.9,161.8 117.8,159.2 114.7,153.0 114.3,151.8 113.7,149.8 113.3,147.5 113.0,145.2 113.1,143.5 113.4,141.2 113.8,140.0 114.2,139.2 114.9,138.5 116.2,137.5 118.0,136.3 119.2,135.6 120.5,135.1 122.8,134.5 126.2,133.8 130.2,133.2 132.0,133.2 135.0,133.3 139.0,133.7 150.0,135.0 160.5,137.5 166.8,138.4 172.0,139.4 174.4,140.0 177.2,141.0 178.7,141.8 179.5,142.5 179.7,142.8 179.7,143.2 179.7,143.5 179.4,144.0 178.4,144.8 177.0,145.5 173.8,146.8 169.5,148.3 158.8,151.8 156.8,152.6 155.3,153.5 154.5,154.2 153.7,155.0 150.9,158.5 148.9,161.2 146.4,165.2 145.3,166.8 143.8,168.5 141.1,171.2 139.2,173.0 137.8,174.1 136.2,175.0 131.8,177.4 130.3,178.5 128.1,180.8 127.5,181.1 126.8,181.3Z M127.5,176.0 126.8,175.9 126.0,175.3 125.2,174.2 124.4,172.5 122.6,167.5 121.4,162.2 120.8,160.2 119.6,157.8 117.0,153.4 116.4,152.2 115.7,150.5 115.0,148.2 114.6,146.2 114.4,144.8 114.5,143.0 114.8,141.2 115.1,140.5 115.6,139.8 116.5,138.9 118.0,137.8 119.5,136.8 120.8,136.3 122.8,135.7 125.8,135.1 128.5,134.6 130.5,134.3 132.0,134.3 134.8,134.4 138.5,134.8 145.8,135.8 150.0,136.3 159.8,138.6 165.8,139.7 168.5,140.3 170.8,141.0 172.2,141.5 173.3,142.0 173.8,142.3 174.2,142.8 174.3,143.0 174.4,143.5 174.3,143.8 173.9,144.2 172.9,145.0 171.4,145.8 169.5,146.6 167.0,147.5 157.2,150.6 155.5,151.3 154.0,152.2 153.1,153.0 152.3,153.8 150.0,156.5 148.7,157.8 147.6,159.0 146.3,160.8 143.5,164.7 142.0,166.5 140.4,168.2 138.4,170.0 137.0,171.5 135.5,172.6 133.8,173.6 128.8,175.7 127.5,176.0Z M130.8,172.3 129.2,172.5 128.5,172.4 128.0,172.3 127.2,171.8 126.4,170.8 125.2,168.8 124.5,167.0 124.1,165.0 123.4,160.8 123.1,159.5 122.7,158.5 121.6,156.5 118.2,151.8 117.5,150.4 116.8,148.8 116.2,147.0 116.0,145.5 115.9,144.0 116.0,142.5 116.3,141.5 116.8,140.6 117.2,140.0 118.4,139.0 119.8,138.1 121.0,137.5 122.8,136.9 125.5,136.2 128.0,135.7 130.2,135.4 132.0,135.3 134.2,135.4 138.5,135.9 146.0,137.1 150.0,137.6 165.2,141.2 167.5,142.0 168.4,142.5 169.1,143.0 169.3,143.5 169.4,143.8 169.2,144.2 168.7,144.8 167.5,145.5 165.9,146.2 163.9,147.0 157.5,149.0 155.8,149.6 153.8,150.5 152.2,151.5 151.1,152.5 150.0,153.6 146.5,156.5 144.5,158.5 142.3,161.2 138.7,166.5 137.6,167.8 136.5,169.0 134.8,170.4 133.8,171.1 132.2,171.8 130.8,172.3Z M131.5,169.8 130.2,170.0 129.5,169.9 129.0,169.8 128.5,169.5 128.0,169.2 127.5,168.6 127.1,168.0 126.5,166.8 126.0,165.0 125.8,163.2 125.8,159.5 125.6,158.5 125.3,157.5 124.8,156.5 124.0,155.5 121.0,152.4 120.0,151.2 118.9,149.5 118.1,147.8 117.6,146.5 117.4,145.2 117.3,144.0 117.4,143.0 117.6,142.0 118.0,141.2 118.6,140.5 119.4,139.8 120.5,139.0 121.8,138.4 123.6,137.8 126.0,137.1 128.2,136.6 130.2,136.4 132.0,136.3 134.0,136.4 138.2,137.0 145.5,138.3 150.0,138.8 150.5,138.9 154.9,140.0 160.8,141.8 162.2,142.2 163.2,142.7 163.8,143.0 164.3,143.5 164.4,143.8 164.4,144.2 164.1,144.8 163.4,145.2 162.5,145.8 161.3,146.2 155.2,148.3 152.8,149.3 151.6,150.0 150.0,151.2 146.3,153.5 142.8,156.0 140.8,157.8 140.1,158.5 139.5,159.3 138.7,160.8 136.9,165.0 136.2,166.2 135.4,167.2 134.8,168.0 133.8,168.8 132.8,169.4 131.5,169.8Z M131.0,167.8 130.5,167.8 130.0,167.7 129.2,167.2 128.8,166.8 128.5,166.2 128.1,165.0 128.0,163.8 128.1,162.5 128.4,161.2 129.1,159.0 129.2,158.2 129.2,157.2 128.8,156.5 128.3,155.8 127.5,155.0 123.5,152.1 121.9,150.8 121.0,149.8 120.3,148.8 119.7,147.8 119.3,146.8 118.9,145.8 118.8,145.0 118.7,144.0 118.8,143.2 119.0,142.5 119.4,141.8 120.0,141.0 120.5,140.5 121.5,139.8 122.8,139.2 124.6,138.5 126.5,138.0 128.5,137.5 130.2,137.3 131.8,137.2 133.5,137.3 135.2,137.5 138.0,137.9 145.8,139.6 150.0,140.1 153.2,141.0 156.1,142.0 157.8,142.8 158.8,143.5 159.2,144.0 159.2,144.5 158.8,145.0 158.1,145.5 157.1,146.0 152.5,147.9 150.0,149.2 148.5,149.9 146.7,150.8 139.8,154.5 138.1,155.5 137.1,156.2 136.2,157.2 135.8,157.8 135.5,158.5 135.4,159.5 135.2,161.8 135.1,163.0 134.7,164.2 134.3,165.2 133.6,166.2 132.8,167.0 132.0,167.5 131.0,167.8Z M134.8,153.8 133.8,153.9 132.5,153.9 131.0,153.6 129.5,153.2 127.5,152.4 126.0,151.7 124.5,150.8 123.2,149.8 122.2,148.8 121.4,147.8 120.8,146.5 120.4,145.5 120.2,144.5 120.3,143.5 120.7,142.5 121.2,141.7 122.0,141.0 123.2,140.2 124.5,139.6 126.2,139.0 128.2,138.5 130.0,138.2 131.5,138.1 133.2,138.2 135.5,138.5 138.2,139.0 146.2,141.2 148.0,141.5 150.0,141.7 151.9,142.5 152.8,143.0 153.5,143.5 153.9,144.0 154.0,144.5 153.9,144.8 153.5,145.2 152.5,146.0 150.0,147.5 148.5,147.9 146.8,148.6 141.5,151.1 138.8,152.3 136.2,153.3 134.8,153.8Z M134.2,151.5 133.0,151.6 131.8,151.6 130.5,151.5 129.2,151.2 128.0,150.8 126.8,150.3 125.5,149.6 124.6,149.0 123.7,148.2 122.8,147.2 122.2,146.3 122.0,145.5 121.8,144.8 121.9,144.0 122.1,143.2 122.6,142.5 123.3,141.8 124.2,141.1 125.5,140.4 126.8,139.9 128.5,139.4 130.2,139.1 131.8,139.1 133.2,139.1 135.0,139.4 137.0,139.8 138.2,140.1 140.0,140.8 142.3,141.8 144.8,143.0 146.0,143.8 146.8,144.5 146.9,144.8 146.9,145.2 146.2,146.0 144.4,147.2 142.4,148.5 140.2,149.6 138.2,150.4 136.2,151.1 134.2,151.5Z M133.8,149.8 131.8,149.9 129.8,149.7 127.8,149.1 126.9,148.8 126.0,148.2 125.2,147.7 124.6,147.0 124.2,146.5 123.8,145.8 123.6,145.0 123.6,144.5 123.8,143.9 124.1,143.2 124.7,142.5 125.3,142.0 126.1,141.5 127.1,141.0 128.2,140.6 129.5,140.2 130.8,140.1 131.8,140.0 133.0,140.1 134.3,140.2 135.5,140.5 137.1,141.0 138.3,141.5 139.2,142.0 140.0,142.5 140.9,143.2 141.4,144.0 141.6,144.5 141.6,145.0 141.5,145.5 141.2,146.0 140.5,146.8 139.2,147.8 137.5,148.7 135.8,149.3 133.8,149.8Z M132.5,148.3 131.0,148.3 129.5,148.0 128.1,147.5 126.9,146.8 126.2,146.0 126.0,145.5 125.9,145.0 125.9,144.5 126.0,144.0 126.5,143.2 127.3,142.5 128.8,141.8 130.2,141.3 131.8,141.2 133.5,141.3 135.1,141.8 136.7,142.5 137.7,143.2 138.2,144.0 138.3,144.8 138.1,145.5 137.6,146.2 136.6,147.0 135.5,147.5 134.0,148.0 132.5,148.3Z M132.2,146.3 131.5,146.3 130.8,146.2 130.0,145.9 129.4,145.5 129.2,145.2 129.0,144.8 129.0,144.2 129.4,143.8 130.0,143.3 130.5,143.1 131.8,142.9 133.0,143.0 133.6,143.2 134.2,143.7 134.5,144.0 134.7,144.5 134.6,145.0 134.4,145.2 134.0,145.7 133.5,145.9 132.2,146.3Z" fill="none" stroke="#2db52d" stroke-width="0.65" stroke-linejoin="round"/>
<path d="M128.2,281.0 127.2,281.1 126.2,281.0 124.8,280.6 123.5,280.2 121.8,279.3 118.8,277.3 117.0,275.8 114.6,273.2 113.5,271.8 112.0,269.2 111.4,267.8 111.0,266.2 109.8,257.0 109.5,253.0 108.4,246.8 108.2,244.2 108.1,242.0 108.1,240.8 108.3,239.5 109.1,236.8 109.7,235.2 110.4,234.0 111.8,232.2 112.8,230.9 113.7,230.0 114.8,229.3 116.0,228.6 118.2,227.5 119.5,227.1 122.0,226.6 125.5,226.3 127.2,226.2 132.5,226.5 133.8,226.7 135.2,227.1 137.8,227.9 139.0,228.5 140.5,229.4 143.0,231.1 143.8,231.8 144.6,232.8 146.1,235.0 147.0,236.5 147.4,237.5 147.7,238.8 148.2,241.2 148.3,242.5 148.3,243.5 148.1,244.8 147.5,247.5 147.1,248.8 146.5,250.0 144.7,252.2 144.1,253.2 143.6,254.2 143.2,255.5 142.7,257.5 142.5,259.0 142.2,262.0 142.1,264.5 141.9,266.5 141.7,267.5 141.3,268.5 140.2,270.1 139.1,271.5 138.1,272.5 135.0,274.7 133.2,276.3 132.2,277.4 131.0,279.3 130.4,280.0 129.5,280.6 128.2,281.0Z M127.8,278.3 127.0,278.4 126.2,278.3 124.5,277.8 122.9,277.0 120.3,275.2 118.8,274.0 116.8,271.9 115.7,270.5 114.6,268.5 114.1,267.5 113.7,266.5 113.5,265.2 113.1,262.0 112.2,259.8 111.2,256.0 110.6,253.0 109.2,247.0 108.8,244.2 108.7,242.0 108.8,240.8 109.0,239.5 109.7,237.0 110.2,235.5 111.0,234.2 112.2,232.5 113.2,231.3 114.1,230.5 115.0,229.9 116.8,229.0 118.5,228.1 119.8,227.7 121.0,227.4 123.0,227.2 126.0,226.8 127.5,226.8 132.5,227.1 133.8,227.3 135.5,227.8 137.5,228.5 138.8,229.1 140.5,230.1 142.5,231.5 143.3,232.2 144.2,233.2 145.6,235.2 146.4,236.8 146.8,237.8 147.1,239.0 147.5,241.2 147.7,242.5 147.6,243.5 147.4,244.8 146.8,247.2 146.3,248.5 145.6,249.8 143.7,252.0 142.9,253.2 142.2,254.5 141.3,257.0 139.8,262.0 139.6,264.2 139.4,265.8 139.2,266.8 138.7,267.8 137.9,269.0 137.0,270.0 136.0,270.9 133.5,272.8 132.0,274.0 130.5,275.5 129.0,277.5 128.4,278.0 127.8,278.3Z M126.8,275.0 126.2,275.1 125.8,275.1 124.8,274.8 123.5,274.2 121.8,273.0 120.5,271.9 119.2,270.5 118.2,269.2 117.3,267.8 116.8,266.5 116.4,265.5 115.9,262.0 114.4,259.8 112.9,256.5 112.0,254.0 110.8,250.2 110.0,247.5 109.6,245.2 109.4,243.5 109.3,241.5 109.4,240.2 109.8,238.8 110.4,236.8 110.9,235.5 111.7,234.2 113.0,232.5 113.9,231.5 114.8,230.8 115.8,230.1 117.8,229.1 119.0,228.6 120.2,228.2 121.8,227.9 124.8,227.5 126.5,227.4 128.0,227.3 132.8,227.7 134.2,228.1 136.0,228.6 137.5,229.1 138.8,229.7 140.5,230.8 142.2,232.1 143.0,232.8 143.8,233.8 145.2,235.8 145.9,237.0 146.3,238.2 146.7,239.8 147.0,241.5 147.0,242.8 146.9,244.0 146.6,245.0 146.1,247.0 145.7,248.0 145.0,249.2 142.6,252.0 141.7,253.2 139.6,257.0 137.8,260.5 137.0,262.0 136.8,263.8 136.6,265.0 136.3,266.0 135.8,267.0 135.0,268.0 134.2,268.8 131.5,271.0 127.8,274.4 127.2,274.8 126.8,275.0Z M126.5,271.3 125.8,271.4 125.0,271.4 124.2,271.1 123.3,270.5 122.4,269.8 121.4,268.8 120.7,267.8 120.1,266.8 119.6,265.8 119.3,264.8 118.7,262.0 116.7,259.5 114.8,256.5 113.8,254.6 111.5,249.8 110.7,247.2 110.0,244.5 109.8,242.2 109.9,240.5 110.2,239.0 110.8,237.0 111.3,236.0 111.8,235.0 113.1,233.2 114.2,232.0 115.0,231.2 116.2,230.5 118.0,229.6 119.5,229.0 120.5,228.7 122.0,228.4 125.5,228.0 127.2,227.9 128.8,227.9 132.2,228.2 133.5,228.4 135.0,228.8 136.8,229.4 138.0,230.0 139.2,230.7 140.9,231.8 141.9,232.5 142.7,233.2 143.5,234.2 144.5,235.8 145.1,236.8 145.6,237.8 146.0,239.2 146.3,241.2 146.4,242.5 146.3,243.5 146.1,244.5 145.6,246.5 145.2,247.5 144.8,248.2 143.8,249.5 141.5,252.0 140.6,253.0 135.6,260.0 134.0,262.0 133.7,263.5 133.5,264.4 133.2,265.2 132.7,266.0 131.4,267.5 129.2,269.4 127.8,270.6 126.5,271.3Z M126.2,267.8 125.8,267.9 125.2,267.8 124.5,267.6 123.8,267.1 123.0,266.3 122.5,265.5 122.0,264.5 121.7,263.5 121.3,262.0 119.0,259.3 116.2,255.8 115.2,254.4 113.2,251.0 111.8,248.1 110.9,246.0 110.6,244.2 110.4,243.0 110.4,241.5 110.5,240.2 110.8,238.8 111.4,237.0 111.8,236.0 112.4,235.0 113.5,233.5 114.7,232.2 115.8,231.4 117.0,230.7 118.8,229.8 120.0,229.3 121.5,229.0 123.8,228.7 126.2,228.4 127.8,228.3 132.5,228.7 133.8,229.0 135.2,229.4 136.8,230.0 138.0,230.5 139.2,231.2 140.8,232.2 141.7,233.0 142.5,233.8 143.2,234.8 144.2,236.2 144.8,237.2 145.2,238.2 145.5,239.8 145.8,241.5 145.9,242.5 145.8,243.7 145.5,244.7 145.0,246.2 144.5,247.3 143.8,248.2 143.0,249.2 139.6,252.5 131.2,262.0 131.0,263.0 130.6,264.0 130.1,264.8 129.5,265.5 128.8,266.3 127.8,267.1 127.0,267.5 126.2,267.8Z M126.5,263.8 126.0,263.9 125.5,263.8 124.8,263.2 124.5,262.8 124.2,262.0 123.2,261.3 122.2,260.3 117.5,255.0 116.0,253.1 114.1,250.5 113.2,249.1 112.4,247.5 111.9,246.2 111.3,244.8 111.1,244.0 110.9,242.5 110.9,241.5 111.0,240.2 111.2,239.0 111.8,237.4 112.2,236.2 113.0,235.0 113.8,234.0 115.1,232.5 116.1,231.8 117.8,230.8 119.5,230.0 121.0,229.6 122.7,229.2 125.0,229.0 128.0,228.8 131.2,229.0 132.9,229.2 135.5,230.0 137.9,231.0 140.3,232.5 141.2,233.3 142.2,234.2 143.0,235.3 143.9,236.8 144.4,237.8 144.7,238.5 145.0,239.8 145.2,241.2 145.2,242.5 145.1,243.5 144.8,244.5 144.1,246.2 143.5,247.2 142.8,248.2 133.1,257.2 129.8,260.8 129.0,261.5 128.2,262.0 128.0,262.5 127.5,263.1 127.0,263.5 126.5,263.8Z M126.8,260.3 126.0,260.3 125.2,260.2 124.5,259.8 123.8,259.2 117.5,252.9 116.0,251.3 114.8,249.7 113.8,248.1 113.0,246.8 112.4,245.5 111.9,244.0 111.7,242.8 111.7,241.8 111.7,240.8 111.8,239.8 112.2,238.2 112.7,237.0 113.2,236.0 114.1,234.8 115.0,233.6 115.9,232.8 117.0,232.0 118.5,231.2 120.0,230.6 121.2,230.2 123.2,229.8 125.8,229.5 127.2,229.4 128.5,229.4 131.0,229.6 132.5,229.8 135.0,230.5 136.3,231.0 137.5,231.6 138.7,232.2 140.0,233.2 141.0,234.0 141.7,234.8 142.5,235.8 143.1,236.8 143.6,237.8 144.0,238.8 144.2,240.0 144.4,241.5 144.4,242.5 144.3,243.5 143.9,244.8 143.2,246.2 142.5,247.2 141.6,248.2 136.0,253.0 131.6,256.5 128.5,259.3 127.5,260.0 126.8,260.3Z M126.5,257.8 126.0,257.8 125.2,257.6 124.5,257.2 123.5,256.5 120.0,253.6 118.0,251.8 116.5,250.3 115.2,248.8 114.4,247.5 113.8,246.5 113.2,245.2 112.7,244.0 112.5,242.8 112.4,241.5 112.5,240.5 112.7,239.2 113.1,238.0 113.6,236.8 114.2,235.7 115.2,234.4 116.2,233.5 117.0,232.8 118.2,232.1 119.5,231.5 120.8,231.0 122.2,230.7 124.5,230.3 126.5,230.1 127.8,230.0 129.5,230.1 131.5,230.3 132.8,230.5 135.2,231.3 136.5,231.8 137.5,232.3 138.6,233.0 139.8,233.9 140.5,234.5 141.2,235.3 142.5,237.2 143.0,238.2 143.3,239.2 143.5,240.5 143.6,241.8 143.6,242.8 143.4,243.8 142.8,245.2 142.0,246.5 141.2,247.5 140.0,248.6 135.5,252.1 128.5,256.9 127.5,257.5 126.5,257.8Z M126.8,255.5 126.0,255.5 125.0,255.3 124.0,254.8 122.5,253.8 120.2,252.2 118.5,250.8 117.1,249.5 115.9,248.2 114.6,246.2 114.0,245.2 113.5,244.0 113.3,242.8 113.2,241.5 113.3,240.2 113.5,239.0 113.9,237.8 114.4,236.8 115.2,235.5 116.1,234.5 116.9,233.8 117.8,233.2 119.0,232.5 120.2,231.9 121.5,231.5 123.0,231.2 125.0,230.9 126.8,230.7 128.2,230.7 130.2,230.8 131.8,231.0 133.0,231.3 135.5,232.1 137.3,233.0 138.5,233.8 139.4,234.5 140.2,235.2 140.8,235.9 141.4,236.8 141.9,237.8 142.3,238.5 142.6,239.5 142.8,240.5 142.8,241.8 142.8,242.8 142.6,243.8 141.9,245.2 141.0,246.5 139.8,247.8 137.8,249.3 135.0,251.2 132.2,252.9 128.5,254.9 127.5,255.3 126.8,255.5Z M127.0,253.8 126.0,253.8 125.0,253.6 123.8,253.0 122.2,252.2 120.5,251.1 119.0,250.0 117.8,248.9 116.5,247.6 115.2,245.9 114.3,244.0 114.0,242.8 113.9,241.5 114.0,240.2 114.3,239.0 114.6,238.0 115.1,237.0 115.8,236.0 116.8,234.9 117.5,234.2 118.5,233.5 119.8,232.9 120.8,232.4 122.0,232.0 123.5,231.7 125.2,231.5 127.0,231.3 128.5,231.3 130.5,231.5 131.8,231.6 133.0,231.9 135.2,232.7 137.0,233.6 138.9,235.0 139.7,235.8 140.2,236.4 141.2,238.0 141.5,238.8 141.8,239.8 142.0,240.8 142.1,241.8 142.0,242.8 141.8,243.8 141.6,244.2 141.0,245.2 140.0,246.5 138.5,247.8 136.5,249.2 134.0,250.8 131.2,252.2 128.8,253.3 127.8,253.6 127.0,253.8Z M128.0,252.3 126.5,252.4 125.8,252.4 125.0,252.2 123.0,251.4 120.8,250.1 118.9,248.8 117.3,247.2 116.1,245.8 115.1,244.0 114.8,242.2 114.8,240.8 115.1,239.0 115.8,237.4 116.8,236.0 118.0,234.8 119.5,233.7 121.2,233.0 122.5,232.6 124.0,232.3 125.8,232.0 127.2,231.9 128.8,232.0 130.8,232.1 132.0,232.3 133.2,232.7 134.8,233.2 135.9,233.8 137.0,234.4 138.1,235.2 139.0,236.1 139.8,237.0 140.4,238.0 140.8,239.0 141.1,240.0 141.2,241.0 141.2,242.0 141.1,243.0 140.9,244.0 140.7,244.2 140.1,245.2 139.4,246.0 138.5,246.8 137.2,247.8 134.2,249.7 131.0,251.2 129.2,251.9 128.0,252.3Z M127.2,251.3 126.2,251.3 125.2,251.1 124.0,250.7 122.5,250.0 121.0,249.2 119.8,248.3 118.7,247.5 117.7,246.5 116.9,245.5 116.2,244.5 116.0,244.0 115.7,243.0 115.6,242.0 115.5,241.0 115.7,239.8 116.0,238.8 116.4,237.8 116.9,237.0 117.5,236.2 118.2,235.5 119.0,234.9 120.0,234.2 121.0,233.8 122.0,233.4 124.8,232.8 127.5,232.5 129.0,232.6 130.8,232.8 132.0,233.0 133.2,233.4 135.0,234.1 136.6,235.0 138.2,236.2 139.2,237.5 140.0,239.0 140.3,240.5 140.4,241.5 140.4,242.2 140.1,243.8 140.0,244.0 139.5,244.8 138.3,246.0 137.0,247.1 135.0,248.3 133.0,249.4 130.8,250.3 128.8,251.0 127.2,251.3Z M127.2,250.3 126.2,250.2 125.2,250.1 124.0,249.7 122.8,249.2 121.5,248.5 120.2,247.7 119.2,246.9 118.2,245.9 117.5,245.0 116.8,244.0 116.5,242.8 116.4,241.8 116.4,240.8 116.5,239.8 116.8,238.8 117.2,238.0 117.8,237.1 118.2,236.5 119.0,235.8 120.0,235.1 121.0,234.5 122.0,234.1 123.0,233.8 125.8,233.3 127.0,233.2 128.2,233.2 131.2,233.5 132.5,233.8 133.8,234.2 135.3,235.0 136.8,236.0 137.8,237.0 138.7,238.2 139.3,239.5 139.6,241.0 139.5,242.5 139.1,244.0 138.3,245.0 137.2,246.0 135.8,247.0 134.0,248.0 132.2,248.9 130.2,249.6 128.5,250.1 127.2,250.3Z M128.0,249.3 126.8,249.3 125.5,249.2 124.0,248.8 122.5,248.1 121.0,247.2 119.8,246.3 118.7,245.2 117.7,244.0 117.3,242.5 117.2,241.2 117.3,240.0 117.7,238.8 118.4,237.5 119.2,236.6 120.3,235.8 121.5,235.1 122.5,234.7 123.8,234.3 126.5,233.9 128.8,233.9 130.2,234.0 131.5,234.2 132.5,234.5 133.8,235.0 135.5,236.0 136.5,236.8 137.2,237.5 137.8,238.2 138.2,239.0 138.5,239.8 138.6,240.5 138.7,241.2 138.7,242.2 138.4,243.2 138.1,244.0 137.5,244.8 136.6,245.5 135.6,246.2 134.2,247.1 133.0,247.7 130.5,248.7 129.2,249.0 128.0,249.3Z M129.0,248.3 127.8,248.5 126.5,248.5 125.2,248.3 123.8,247.8 122.2,247.0 120.8,246.1 119.6,245.0 118.7,244.0 118.3,242.8 118.1,241.8 118.1,240.8 118.3,239.8 118.6,238.8 119.2,237.8 119.9,237.0 120.8,236.4 121.5,235.9 122.5,235.4 123.8,235.0 125.0,234.8 127.2,234.5 129.8,234.6 131.8,235.0 132.8,235.4 133.8,235.8 134.8,236.4 135.5,236.9 136.1,237.5 136.8,238.3 137.4,239.5 137.7,240.2 137.8,241.0 137.8,241.8 137.7,242.5 137.5,243.2 137.1,244.0 136.5,244.6 135.7,245.2 133.7,246.5 131.5,247.5 129.0,248.3Z M128.8,247.5 127.5,247.7 126.5,247.6 125.2,247.4 124.0,247.0 122.8,246.4 121.7,245.8 120.7,245.0 119.7,244.0 119.3,243.0 119.0,242.0 119.0,241.0 119.1,240.2 119.4,239.2 119.8,238.5 120.4,237.8 121.2,237.0 122.0,236.5 123.0,236.1 125.0,235.5 127.2,235.2 129.5,235.3 131.5,235.7 133.2,236.4 134.2,237.0 134.9,237.5 135.5,238.1 136.0,238.8 136.6,240.0 136.8,240.8 136.8,241.5 136.6,242.8 136.0,244.0 134.8,245.0 132.8,246.2 130.8,247.0 128.8,247.5Z M128.2,246.8 127.2,246.8 126.5,246.8 125.5,246.6 124.5,246.3 123.5,245.9 122.5,245.3 121.7,244.8 120.8,244.0 120.4,243.2 120.1,242.2 120.0,241.2 120.0,240.5 120.3,239.5 120.8,238.8 121.4,238.0 122.1,237.5 123.5,236.8 125.5,236.2 127.5,236.0 129.5,236.1 131.2,236.5 132.8,237.1 134.1,238.0 134.6,238.5 135.2,239.2 135.5,239.9 135.7,240.5 135.8,241.0 135.8,241.8 135.7,242.5 135.5,243.0 134.9,244.0 133.5,244.9 131.8,245.8 130.0,246.4 128.2,246.8Z M127.8,246.0 126.5,246.0 125.0,245.6 123.5,244.9 122.1,244.0 121.5,243.0 121.1,241.8 121.1,240.8 121.4,239.8 121.7,239.2 122.1,238.8 123.0,238.0 124.2,237.4 125.8,237.0 127.2,236.8 128.8,236.8 130.2,237.1 131.5,237.5 132.4,238.0 133.1,238.5 133.8,239.1 134.2,239.8 134.5,240.5 134.7,241.2 134.6,242.0 134.4,242.8 134.0,243.4 133.5,244.0 132.2,244.8 131.1,245.2 130.0,245.6 128.8,245.9 127.8,246.0Z M128.8,245.0 127.2,245.2 126.0,245.0 124.6,244.5 123.8,244.1 123.5,243.9 122.7,242.8 122.5,242.2 122.4,241.5 122.4,240.8 122.6,240.2 122.9,239.8 123.2,239.3 124.0,238.8 125.2,238.2 126.5,237.9 128.0,237.8 129.2,237.9 130.5,238.2 131.5,238.8 132.5,239.5 133.0,240.3 133.3,241.2 133.3,241.8 133.2,242.2 132.8,243.0 132.4,243.5 131.8,244.0 130.2,244.7 128.8,245.0Z M129.0,244.0 127.8,244.2 126.5,244.1 125.8,243.8 125.0,243.3 124.4,242.5 124.1,241.8 124.2,241.0 124.6,240.2 125.2,239.8 125.8,239.5 126.5,239.2 127.5,239.1 128.2,239.1 129.2,239.3 130.0,239.5 130.7,240.0 131.2,240.5 131.4,241.0 131.5,241.8 131.3,242.2 131.0,242.8 130.5,243.3 129.8,243.7 129.0,244.0Z" fill="none" stroke="#2a7de6" stroke-width="0.65" stroke-linejoin="round"/>
<path d="M382.2,81.3 380.5,81.3 378.8,81.1 371.0,78.9 369.2,78.3 368.2,77.7 367.0,76.6 363.4,73.0 362.8,72.2 362.2,71.5 361.9,70.8 361.5,69.5 360.9,67.0 360.7,65.8 360.7,65.0 360.8,64.0 361.7,61.2 362.3,59.8 362.8,59.1 363.2,58.6 366.2,56.3 368.1,55.0 369.0,54.6 369.8,54.4 373.2,53.7 378.8,52.7 380.0,52.5 381.2,52.5 393.2,53.8 406.2,55.6 410.8,55.7 413.8,56.0 417.8,56.1 420.5,56.3 424.5,56.4 427.8,56.6 431.0,56.6 447.2,57.4 449.0,57.7 450.5,58.1 456.0,59.9 457.8,60.6 458.8,61.2 459.5,62.0 460.4,63.2 460.8,64.2 460.9,64.8 460.8,65.2 460.4,66.2 458.8,68.3 458.1,69.0 457.5,69.4 456.8,69.8 455.5,70.3 449.5,72.1 447.2,72.7 444.2,73.1 420.0,75.4 405.0,77.1 402.5,77.6 394.8,79.6 393.2,79.9 382.2,81.3Z M381.8,80.0 380.2,80.0 378.5,79.7 371.5,77.7 369.8,77.1 368.5,76.3 366.8,74.6 364.2,72.1 363.3,70.8 363.0,70.0 362.6,68.8 362.1,67.0 362.0,65.8 362.0,65.0 362.1,64.2 362.8,62.0 363.4,60.5 364.2,59.4 366.2,57.8 368.5,56.2 370.0,55.6 373.2,54.9 379.0,53.9 380.2,53.8 381.2,53.7 392.0,54.9 405.2,57.2 410.5,57.7 413.2,58.0 417.0,58.4 420.0,58.9 427.0,59.0 430.5,58.9 436.0,59.0 441.0,59.1 446.5,59.3 448.2,59.6 450.0,60.0 453.0,60.9 455.8,61.9 456.8,62.4 457.5,63.0 458.1,63.8 458.3,64.5 458.3,65.2 457.8,66.2 457.0,67.2 456.0,67.9 454.8,68.5 452.0,69.4 447.0,70.7 445.5,70.9 443.0,71.1 428.8,72.0 420.0,72.7 412.5,74.2 403.2,75.7 394.2,78.3 392.5,78.7 381.8,80.0Z M383.8,78.5 381.2,78.7 379.5,78.6 377.1,78.0 371.5,76.4 370.2,75.9 369.2,75.3 366.5,72.8 365.1,71.2 364.3,70.0 363.7,68.2 363.2,66.0 363.2,65.2 363.3,64.5 363.8,62.8 364.4,61.2 365.2,60.2 366.3,59.2 368.2,57.8 369.2,57.2 370.4,56.8 373.2,56.1 378.0,55.2 380.0,54.9 381.5,54.9 386.5,55.4 392.0,56.1 404.8,58.9 410.5,59.7 416.5,60.8 420.0,61.6 426.2,61.4 430.8,61.0 436.2,60.6 441.2,60.6 445.0,60.8 446.8,61.0 448.2,61.3 449.5,61.6 451.2,62.1 452.8,62.8 453.8,63.2 454.6,63.8 455.1,64.2 455.3,64.8 455.3,65.2 455.0,65.8 454.5,66.3 453.5,66.9 452.1,67.5 450.5,68.1 448.5,68.6 446.8,69.0 444.0,69.4 440.0,69.7 435.8,69.7 426.2,69.6 423.5,69.7 420.0,69.9 416.1,71.0 412.2,72.0 403.0,73.9 394.2,76.8 392.8,77.3 390.2,77.7 383.8,78.5Z M383.2,77.3 381.2,77.4 379.5,77.2 376.8,76.6 372.5,75.4 371.2,75.0 370.2,74.4 369.2,73.6 368.0,72.5 366.5,70.9 365.6,69.8 365.0,68.3 364.6,66.5 364.5,65.2 364.8,63.8 365.4,62.2 365.8,61.7 366.3,61.0 367.4,60.0 369.0,58.8 370.0,58.2 371.0,57.8 373.8,57.1 377.5,56.4 379.8,56.1 381.5,56.0 386.2,56.5 392.0,57.4 403.8,60.5 405.5,60.8 410.0,61.6 415.0,62.8 417.5,63.6 419.1,64.2 420.0,64.7 421.8,64.6 423.8,64.4 426.2,63.9 430.2,63.0 434.2,62.3 436.5,62.1 440.2,62.0 444.8,62.2 446.2,62.4 447.5,62.7 448.8,63.1 450.0,63.7 450.8,64.2 451.1,64.8 451.1,65.2 450.9,65.5 450.5,65.9 449.6,66.5 448.4,67.0 447.0,67.4 445.7,67.8 444.0,68.0 442.0,68.2 438.8,68.2 435.2,68.1 431.5,67.8 424.0,66.7 422.0,66.6 420.0,66.7 419.0,67.2 417.9,67.8 415.2,68.8 410.5,70.2 402.5,72.2 394.0,75.4 392.5,75.9 389.2,76.5 383.2,77.3Z M383.2,76.0 381.5,76.1 380.0,76.1 378.5,75.8 376.0,75.2 373.5,74.5 372.0,73.9 371.0,73.4 369.8,72.4 368.2,71.0 367.2,69.8 366.5,68.6 366.0,67.2 365.8,65.8 365.9,64.5 366.5,63.0 367.2,61.9 368.4,60.8 369.8,59.8 371.0,59.1 372.2,58.7 375.2,57.9 378.5,57.3 380.5,57.1 382.5,57.1 387.0,57.7 392.0,58.7 400.5,61.4 404.5,62.4 409.3,63.5 410.8,64.0 412.4,64.8 413.1,65.2 413.4,65.8 413.3,66.2 412.8,66.8 412.0,67.2 410.9,67.8 408.8,68.5 403.5,70.0 401.8,70.5 399.2,71.5 393.6,74.0 392.2,74.5 388.2,75.3 383.2,76.0Z M440.5,66.8 437.8,66.7 436.4,66.5 435.1,66.2 433.8,65.8 433.5,65.5 433.4,65.2 433.4,65.0 433.7,64.8 434.0,64.5 435.5,64.0 437.5,63.6 440.0,63.4 442.0,63.5 444.2,63.8 445.8,64.2 446.2,64.5 446.4,64.8 446.5,65.0 446.4,65.2 446.2,65.5 445.9,65.8 445.2,66.0 443.2,66.5 440.5,66.8Z M384.0,74.8 382.2,75.0 381.0,75.0 379.8,74.9 378.2,74.6 375.8,74.0 373.5,73.3 372.2,72.8 371.1,72.0 369.8,70.8 368.5,69.5 367.8,68.5 367.4,67.5 367.2,66.2 367.2,65.0 367.6,63.8 368.2,62.8 369.1,61.8 370.4,60.8 371.5,60.1 373.0,59.6 375.5,58.9 378.2,58.3 380.2,58.1 382.2,58.1 384.5,58.3 386.8,58.7 389.0,59.2 392.0,60.0 397.8,62.2 404.4,64.5 406.0,65.2 406.5,65.8 406.5,66.0 406.5,66.2 406.3,66.5 406.0,66.8 405.1,67.2 399.8,69.4 392.0,73.2 388.0,74.1 384.0,74.8Z M383.5,73.8 382.0,73.9 380.8,73.9 378.2,73.6 376.2,73.1 374.2,72.4 373.0,71.9 372.0,71.3 371.0,70.5 369.9,69.2 369.1,68.2 368.8,67.4 368.5,66.2 368.5,65.2 368.8,64.3 369.2,63.5 370.0,62.5 371.2,61.5 372.5,60.9 374.0,60.3 376.2,59.6 378.8,59.1 380.5,59.0 382.2,59.0 384.5,59.3 386.8,59.7 389.0,60.3 392.0,61.2 398.6,64.5 399.7,65.2 400.1,65.8 400.2,66.0 400.1,66.5 399.7,67.0 399.1,67.5 394.2,70.5 392.0,71.8 390.0,72.4 387.8,73.0 385.5,73.5 383.5,73.8Z M383.8,72.8 381.2,73.0 380.0,72.9 378.8,72.7 377.2,72.3 375.5,71.8 374.1,71.2 373.0,70.7 372.1,70.0 371.1,69.0 370.4,68.0 370.0,67.2 369.8,66.2 369.8,65.5 370.0,64.8 370.3,64.0 371.2,63.0 372.2,62.2 373.2,61.6 374.8,61.0 376.5,60.5 378.5,60.0 380.2,59.8 381.8,59.8 383.8,60.0 386.0,60.4 388.2,61.1 390.5,61.9 392.0,62.5 393.6,63.5 395.0,64.5 395.5,65.0 395.9,65.5 396.2,66.0 396.2,66.2 396.1,66.8 395.8,67.2 395.4,67.8 394.5,68.5 392.0,70.3 390.0,71.1 388.0,71.8 385.8,72.4 383.8,72.8Z M382.2,72.0 381.0,72.0 380.0,72.0 377.8,71.5 375.2,70.7 374.3,70.2 373.5,69.8 372.9,69.2 372.2,68.5 371.6,67.8 371.3,67.0 371.1,66.2 371.1,65.5 371.4,64.8 371.7,64.2 372.3,63.5 373.2,62.8 374.2,62.2 375.8,61.6 377.2,61.1 379.0,60.8 380.5,60.6 381.8,60.6 383.5,60.8 385.2,61.2 387.0,61.7 388.6,62.2 390.2,63.0 392.0,64.1 392.7,64.8 393.3,65.5 393.5,66.2 393.5,66.8 393.3,67.2 392.9,67.8 392.2,68.5 391.2,69.2 389.1,70.2 387.0,71.0 384.5,71.7 382.2,72.0Z M383.2,71.0 381.2,71.2 379.2,71.0 377.0,70.4 376.0,70.0 375.0,69.5 374.2,69.0 373.7,68.5 373.2,68.0 372.8,67.2 372.5,66.5 372.5,66.0 372.6,65.2 372.9,64.8 373.5,64.0 374.2,63.4 375.2,62.8 376.5,62.3 377.8,61.9 379.0,61.6 380.2,61.4 381.5,61.4 382.8,61.5 384.2,61.8 385.8,62.2 387.0,62.6 388.3,63.2 389.2,63.8 390.1,64.5 390.9,65.2 391.3,66.0 391.3,66.8 390.9,67.5 390.0,68.4 388.6,69.2 387.0,70.0 385.2,70.6 383.2,71.0Z M382.2,70.3 380.8,70.3 379.0,70.0 377.2,69.5 375.7,68.8 374.8,68.0 374.4,67.5 374.1,67.0 373.9,66.5 373.9,66.0 374.0,65.5 374.3,65.0 374.7,64.5 375.3,64.0 376.1,63.5 377.2,63.0 378.2,62.6 379.2,62.4 380.2,62.3 381.2,62.2 382.2,62.3 383.5,62.5 384.6,62.8 385.8,63.2 386.8,63.6 387.5,64.1 388.3,64.8 388.8,65.2 389.1,66.0 389.1,66.8 388.8,67.5 387.9,68.2 386.8,69.0 385.5,69.5 383.9,70.0 382.2,70.3Z M382.8,69.3 381.2,69.4 380.0,69.3 378.5,68.9 377.2,68.4 376.3,67.8 375.7,67.0 375.5,66.2 375.7,65.5 376.3,64.8 377.4,64.0 378.6,63.5 380.0,63.2 381.2,63.1 382.7,63.2 384.0,63.6 385.2,64.1 386.3,64.8 386.9,65.5 387.2,66.2 387.1,67.0 386.4,67.8 385.5,68.4 384.2,68.9 382.8,69.3Z M382.2,68.3 381.2,68.4 380.2,68.3 379.2,68.0 378.6,67.8 377.9,67.2 377.6,66.8 377.4,66.2 377.6,65.8 378.0,65.2 378.7,64.8 379.2,64.5 380.2,64.2 381.0,64.2 382.0,64.2 383.0,64.5 383.8,64.8 384.5,65.2 384.9,65.8 385.1,66.2 385.0,66.8 384.6,67.2 383.9,67.8 383.2,68.0 382.2,68.3Z" fill="none" stroke="#858585" stroke-width="0.65" stroke-linejoin="round"/>
<path d="M382.5,176.5 380.5,176.5 375.2,176.0 373.2,175.7 372.0,175.3 371.2,175.0 370.2,174.3 367.4,172.2 366.2,171.4 365.8,170.9 365.3,170.2 364.9,169.5 364.5,168.5 362.9,164.0 362.3,162.0 362.3,161.2 362.3,160.5 362.8,158.8 364.7,154.2 365.1,153.5 365.6,152.8 366.8,151.7 369.8,149.5 371.2,148.5 372.2,148.1 373.2,147.8 375.0,147.5 380.5,146.9 382.5,146.9 391.5,147.8 393.0,148.2 398.8,149.8 400.5,150.1 402.5,150.3 406.0,150.4 409.0,150.7 412.2,150.8 415.5,151.1 420.0,151.3 448.2,151.2 463.8,152.3 465.0,152.6 466.2,153.0 471.2,154.9 473.0,155.8 474.0,156.6 475.0,157.7 475.7,158.8 476.2,159.8 476.2,160.2 476.1,160.8 475.9,161.5 475.4,162.2 474.0,164.3 473.5,164.8 472.8,165.2 471.8,165.7 470.2,166.2 461.8,168.6 459.8,169.1 458.5,169.2 453.8,169.5 438.5,170.2 432.0,170.2 428.0,170.4 421.5,170.5 418.0,170.8 411.8,171.0 408.2,171.3 401.2,171.5 400.2,171.6 399.0,171.9 393.2,174.1 391.5,174.7 384.8,176.1 382.5,176.5Z M382.2,175.5 380.0,175.5 374.2,174.8 372.8,174.5 371.5,173.9 367.8,171.3 366.5,170.1 366.1,169.5 365.7,168.8 364.3,165.0 363.4,162.2 363.3,161.2 363.3,160.5 363.5,159.8 363.9,158.5 365.7,154.5 366.5,153.3 367.5,152.4 371.0,149.9 372.0,149.3 372.8,149.0 374.5,148.6 380.2,147.9 382.0,147.8 384.0,148.0 390.2,148.7 391.8,148.9 398.2,150.9 400.8,151.4 411.8,152.5 420.0,153.7 429.0,153.7 440.8,153.2 447.2,153.1 452.5,153.3 459.8,154.0 462.8,154.4 464.2,154.7 466.0,155.3 469.5,156.7 471.0,157.5 472.0,158.2 472.7,159.0 473.0,159.5 473.1,160.0 473.1,160.8 472.7,161.8 472.0,162.6 471.0,163.3 469.2,164.1 465.1,165.5 461.5,166.6 459.2,167.1 457.8,167.3 453.0,167.7 448.2,167.9 443.5,168.0 437.8,168.0 431.0,167.8 420.0,168.0 418.2,168.4 416.8,168.7 411.0,169.3 408.2,169.7 401.8,170.1 400.2,170.3 398.5,170.8 393.2,173.0 391.5,173.6 384.8,175.1 382.2,175.5Z M382.2,174.5 380.0,174.5 375.0,173.9 373.5,173.6 372.2,173.1 371.0,172.3 369.0,170.9 368.0,170.2 367.3,169.5 366.6,168.2 365.4,165.2 364.5,162.5 364.3,161.5 364.3,160.8 364.4,160.0 364.8,158.8 366.2,155.5 367.0,154.2 368.0,153.2 371.2,150.9 372.2,150.3 373.0,149.9 374.0,149.6 375.5,149.4 381.2,148.8 383.5,148.8 388.0,149.3 390.5,149.7 392.0,150.0 397.8,152.0 400.2,152.6 402.0,152.9 405.5,153.3 411.8,154.2 417.2,155.3 420.0,155.9 424.8,156.1 428.5,156.0 431.8,155.8 440.2,154.9 445.8,154.6 449.5,154.6 452.2,154.8 455.0,155.1 460.0,155.8 462.5,156.3 464.0,156.8 466.2,157.8 467.9,158.8 468.8,159.5 469.1,160.0 469.1,160.2 469.1,160.5 469.0,160.9 468.4,161.5 467.7,162.0 466.3,162.8 464.0,163.8 461.8,164.6 459.8,165.2 458.0,165.6 452.8,166.2 447.0,166.4 443.0,166.4 438.5,166.2 430.0,165.5 424.2,165.4 420.0,165.6 417.2,166.4 414.0,167.1 407.8,168.1 401.5,168.8 400.0,169.1 398.2,169.7 393.2,171.9 391.5,172.6 389.8,173.1 385.5,174.0 382.2,174.5Z M382.5,173.5 380.5,173.6 377.2,173.2 374.5,172.8 373.0,172.3 372.0,171.8 370.8,171.0 369.4,170.0 368.5,169.3 367.7,168.2 366.8,166.5 365.7,163.5 365.3,161.8 365.2,161.0 365.3,160.2 366.0,158.2 367.1,155.8 367.6,155.0 368.2,154.2 369.0,153.5 370.8,152.3 372.0,151.4 373.0,150.9 374.0,150.6 375.5,150.3 378.8,149.8 381.2,149.6 383.8,149.7 388.2,150.3 390.5,150.6 392.0,151.0 397.8,153.2 400.2,153.9 401.8,154.2 405.5,154.7 411.5,155.8 416.8,157.1 418.5,157.6 420.0,158.2 423.0,158.5 425.8,158.6 428.5,158.4 430.8,158.0 438.0,156.6 440.5,156.3 443.0,156.0 447.5,155.8 452.2,156.1 456.5,156.7 459.0,157.2 460.7,157.8 462.1,158.2 463.1,158.8 463.8,159.2 464.0,159.5 464.3,160.0 464.3,160.2 464.2,160.8 463.5,161.5 462.0,162.5 460.2,163.3 458.8,163.9 457.1,164.2 454.0,164.8 451.8,165.0 447.5,165.2 442.2,165.0 437.8,164.5 430.8,163.3 427.8,163.0 424.2,162.9 420.0,163.3 417.2,164.4 413.8,165.3 407.8,166.5 401.5,167.5 399.8,167.8 398.0,168.5 393.0,170.9 391.2,171.6 389.5,172.1 386.2,172.9 382.5,173.5Z M382.8,172.5 381.0,172.6 378.5,172.4 375.2,171.9 373.5,171.4 371.8,170.5 369.5,168.8 368.6,167.8 367.9,166.5 366.8,163.8 366.3,162.0 366.2,161.2 366.3,160.5 366.8,158.8 367.8,156.5 368.2,155.7 368.8,155.0 369.6,154.2 371.0,153.2 372.2,152.4 373.2,151.8 374.5,151.4 376.0,151.1 379.2,150.7 381.5,150.5 383.0,150.5 384.8,150.7 389.8,151.5 392.0,152.0 397.2,154.3 399.8,155.1 401.8,155.6 405.2,156.1 410.2,157.1 413.0,157.8 415.1,158.5 416.7,159.2 417.5,159.8 417.9,160.2 418.0,160.5 418.0,160.8 417.9,161.2 417.5,161.8 417.2,162.0 416.0,162.7 414.6,163.2 412.2,163.9 408.0,165.0 401.5,166.1 399.8,166.5 397.8,167.3 392.8,169.9 391.2,170.6 389.8,171.1 387.5,171.6 384.8,172.2 382.8,172.5Z M449.5,164.0 446.8,164.1 443.5,163.9 441.2,163.6 438.5,163.1 436.3,162.5 434.6,161.8 433.9,161.2 433.7,161.0 433.6,160.8 433.6,160.5 433.9,160.0 435.0,159.2 436.9,158.5 438.7,158.0 440.8,157.5 442.8,157.2 445.0,157.0 447.2,156.9 449.2,157.0 451.8,157.2 453.8,157.5 455.8,157.9 457.6,158.5 458.8,159.0 459.6,159.5 459.8,159.8 460.1,160.2 460.1,160.8 459.9,161.0 459.5,161.5 458.8,162.0 457.5,162.6 455.8,163.1 453.5,163.6 451.8,163.8 449.5,164.0Z M383.2,171.5 381.5,171.7 379.8,171.6 376.2,171.1 374.2,170.7 372.8,169.9 370.8,168.6 369.8,167.6 369.0,166.5 368.0,164.2 367.3,162.2 367.3,161.0 367.5,159.5 368.5,157.2 368.9,156.5 369.4,155.8 370.8,154.5 373.0,153.0 374.2,152.4 375.5,152.1 378.2,151.6 380.8,151.3 382.2,151.3 383.8,151.4 388.0,152.0 390.2,152.5 392.0,153.0 397.0,155.4 399.5,156.3 401.5,156.9 406.1,157.8 410.5,158.9 411.4,159.2 412.3,159.8 412.8,160.2 413.0,160.5 413.0,161.0 412.7,161.5 411.9,162.0 410.7,162.5 407.4,163.5 401.5,164.7 399.5,165.2 397.5,166.1 392.8,168.8 391.2,169.6 389.8,170.1 388.0,170.6 385.2,171.2 383.2,171.5Z M450.2,162.8 448.5,162.9 446.8,162.9 444.6,162.8 442.8,162.5 440.9,162.0 439.8,161.5 439.1,161.0 439.0,160.8 439.0,160.5 439.2,160.0 439.6,159.8 440.5,159.2 441.5,158.9 442.8,158.6 444.2,158.3 447.2,158.1 450.3,158.2 453.0,158.7 454.0,159.0 455.1,159.5 455.5,159.8 455.9,160.2 456.0,160.5 455.9,160.8 455.8,161.0 455.2,161.4 454.7,161.8 452.8,162.4 450.2,162.8Z M382.5,170.8 380.8,170.8 378.5,170.6 376.0,170.2 374.2,169.6 372.8,168.8 371.2,167.7 370.3,166.8 369.5,165.5 368.7,163.5 368.3,162.0 368.3,160.8 368.6,159.2 369.4,157.5 370.2,156.2 371.0,155.5 371.8,154.9 372.8,154.2 373.8,153.6 374.8,153.2 376.2,152.8 378.5,152.4 380.8,152.1 382.2,152.1 383.8,152.2 387.5,152.8 390.0,153.4 392.0,154.0 396.5,156.4 398.0,157.1 400.5,158.1 404.0,159.0 405.5,159.5 406.6,160.0 407.1,160.5 407.2,160.8 407.2,161.0 407.0,161.2 406.3,161.8 405.0,162.2 400.2,163.5 398.8,164.1 397.0,165.0 392.0,168.2 391.0,168.6 389.2,169.3 387.0,169.9 384.5,170.5 382.5,170.8Z M449.0,161.0 447.8,161.2 446.8,161.1 445.8,160.9 445.5,160.8 445.3,160.5 445.5,160.2 446.1,160.0 447.2,159.8 448.8,159.9 449.2,160.0 449.8,160.2 450.0,160.5 449.8,160.8 449.0,161.0Z M383.8,169.8 382.0,170.0 380.2,169.9 377.8,169.6 375.8,169.2 374.5,168.8 373.5,168.2 372.2,167.4 371.2,166.4 370.4,165.2 369.7,163.8 369.3,162.2 369.2,161.0 369.5,159.5 370.1,158.0 371.0,156.8 372.0,155.8 373.2,154.8 374.5,154.1 375.8,153.7 377.2,153.3 379.5,153.0 381.5,152.8 383.2,152.9 385.2,153.2 387.2,153.6 389.0,154.0 390.5,154.5 392.0,155.1 399.4,159.5 400.1,160.0 400.5,160.5 400.6,160.8 400.5,161.0 400.4,161.2 399.8,161.8 397.0,163.6 392.0,167.1 390.2,168.0 388.5,168.6 386.0,169.3 383.8,169.8Z M383.5,169.0 381.8,169.2 380.2,169.2 378.2,168.9 376.2,168.5 375.0,168.1 373.9,167.5 372.8,166.6 371.9,165.8 371.2,164.8 370.5,163.2 370.2,162.0 370.2,160.8 370.4,159.5 371.0,158.2 371.7,157.2 372.7,156.2 373.8,155.5 374.8,154.9 376.0,154.4 377.5,154.0 379.5,153.7 381.2,153.5 382.8,153.6 384.5,153.8 386.5,154.1 388.5,154.7 390.2,155.3 392.0,156.1 393.7,157.2 395.4,158.5 396.2,159.2 396.9,160.0 397.1,160.5 397.1,161.0 397.0,161.5 396.6,162.0 395.9,162.8 394.6,164.0 392.0,166.1 390.0,167.1 388.2,167.8 385.8,168.6 383.5,169.0Z M383.8,168.3 382.2,168.4 380.8,168.5 379.0,168.3 377.2,167.9 376.0,167.6 375.0,167.1 373.9,166.5 373.0,165.7 372.2,164.8 371.6,163.5 371.2,162.2 371.1,161.2 371.2,160.2 371.6,159.0 372.2,158.0 372.8,157.2 373.8,156.4 374.8,155.8 375.8,155.3 376.8,155.0 378.5,154.6 380.2,154.3 381.8,154.2 383.2,154.3 385.0,154.6 386.8,155.0 388.5,155.5 390.0,156.1 392.0,157.1 393.4,158.2 394.3,159.2 394.9,160.0 395.1,160.5 395.1,161.0 394.9,161.8 394.4,162.5 393.8,163.2 392.0,165.0 390.0,166.2 388.3,167.0 386.0,167.7 383.8,168.3Z M381.8,167.8 380.5,167.7 379.0,167.5 377.5,167.2 376.2,166.8 375.2,166.4 374.3,165.8 373.5,165.0 373.0,164.4 372.5,163.5 372.1,162.5 372.0,161.5 372.0,160.5 372.3,159.5 372.8,158.7 373.5,157.8 374.3,157.0 375.0,156.5 376.0,156.0 377.0,155.6 378.2,155.3 379.8,155.0 381.0,154.9 382.2,154.9 383.5,155.0 384.8,155.2 386.2,155.6 387.6,156.0 389.0,156.6 390.4,157.2 391.5,158.0 392.0,158.3 392.8,159.2 393.3,160.0 393.5,160.5 393.5,161.0 393.5,161.5 393.2,162.2 392.6,163.0 392.0,163.7 391.4,164.2 389.2,165.7 387.0,166.7 384.2,167.4 383.0,167.7 381.8,167.8Z M382.5,167.0 381.2,167.1 380.0,167.0 378.5,166.7 377.2,166.4 376.2,166.0 375.3,165.5 374.7,165.0 374.0,164.2 373.5,163.5 373.1,162.5 372.9,161.5 372.9,160.8 373.2,159.8 373.6,159.0 374.1,158.2 374.9,157.5 375.7,157.0 376.5,156.6 377.5,156.2 378.8,155.9 381.0,155.6 382.0,155.5 383.2,155.6 384.5,155.8 385.8,156.1 388.1,157.0 389.2,157.6 390.2,158.2 390.8,158.8 391.6,159.5 392.0,160.0 392.1,160.5 392.2,161.0 392.1,161.8 391.8,162.2 391.5,162.8 390.2,164.0 388.5,165.1 386.8,166.0 384.5,166.7 382.5,167.0Z M383.0,166.3 381.8,166.4 380.8,166.4 379.7,166.2 378.5,166.0 377.5,165.7 376.5,165.3 375.8,164.8 375.1,164.2 374.5,163.5 374.1,162.8 373.9,162.0 373.8,161.2 373.9,160.5 374.1,159.8 374.5,159.1 375.0,158.5 375.6,158.0 376.3,157.5 378.0,156.8 379.1,156.5 380.2,156.3 382.2,156.2 384.4,156.5 386.5,157.2 388.2,158.0 389.0,158.5 389.8,159.2 390.4,160.0 390.7,160.5 390.8,161.0 390.7,161.5 390.5,162.0 390.2,162.5 389.8,163.1 388.5,164.2 387.0,165.0 385.0,165.8 383.0,166.3Z M383.2,165.5 381.5,165.7 380.5,165.6 379.5,165.5 377.8,165.0 377.0,164.6 376.2,164.1 375.8,163.7 375.2,163.0 375.0,162.5 374.8,161.8 374.8,161.0 374.8,160.5 375.2,159.8 375.5,159.2 376.0,158.7 376.6,158.2 378.0,157.6 379.8,157.1 381.5,156.9 383.2,157.0 385.0,157.4 386.8,158.1 388.1,159.0 388.6,159.5 389.0,160.0 389.3,160.8 389.3,161.5 389.2,162.0 388.9,162.5 387.9,163.5 386.5,164.4 385.0,165.1 383.2,165.5Z M383.2,164.8 381.5,165.0 380.0,164.8 378.5,164.4 377.2,163.8 376.6,163.2 376.2,162.8 375.9,162.2 375.8,161.8 375.8,161.2 375.8,160.8 376.0,160.2 376.3,159.8 377.1,159.0 378.2,158.3 379.8,157.8 381.2,157.6 382.5,157.6 384.0,157.9 385.2,158.3 386.5,159.0 387.4,159.8 387.9,160.5 388.0,161.2 387.9,161.8 387.8,162.1 387.0,163.0 386.0,163.8 384.8,164.3 383.2,164.8Z M383.0,164.0 381.8,164.2 380.5,164.1 379.2,163.8 378.1,163.2 377.3,162.5 377.0,161.8 377.0,161.0 377.3,160.2 378.0,159.5 378.8,159.1 379.8,158.7 381.0,158.4 382.2,158.4 383.2,158.5 384.2,158.8 385.2,159.4 386.0,160.0 386.5,160.7 386.6,161.2 386.4,162.0 385.8,162.7 385.0,163.2 384.0,163.7 383.0,164.0Z M383.0,163.0 382.0,163.2 381.2,163.2 380.2,163.0 379.5,162.8 378.9,162.2 378.5,161.8 378.5,161.2 378.6,160.8 379.0,160.3 379.4,160.0 380.0,159.7 380.8,159.5 381.5,159.4 382.2,159.4 383.0,159.5 383.8,159.8 384.2,160.1 384.6,160.5 384.9,161.0 384.9,161.5 384.6,162.0 384.2,162.4 383.6,162.8 383.0,163.0Z" fill="none" stroke="#2db52d" stroke-width="0.65" stroke-linejoin="round"/>
<path d="M381.8,272.5 378.2,272.6 376.0,272.3 374.5,271.9 373.0,271.4 371.5,270.8 370.0,270.1 368.8,269.3 367.6,268.5 366.5,267.5 365.7,266.8 364.9,265.8 364.3,264.8 363.7,263.5 363.3,262.2 363.1,261.0 363.0,259.8 363.1,258.5 363.4,257.2 363.8,255.8 364.3,254.5 365.1,253.0 365.9,251.8 366.8,250.6 367.7,249.5 368.5,248.8 369.5,248.0 370.8,247.2 372.0,246.6 373.2,246.1 374.8,245.6 376.5,245.2 378.2,245.0 380.0,244.9 381.5,245.0 383.2,245.3 385.0,245.7 386.8,246.2 388.2,246.9 389.5,247.7 390.8,248.7 392.0,249.8 393.0,251.0 393.9,252.2 394.9,254.0 395.4,255.2 395.9,256.8 396.2,258.0 396.3,259.5 396.3,261.0 396.1,262.2 395.7,263.5 395.1,264.8 394.5,265.8 393.6,266.8 392.5,267.9 391.2,268.9 389.8,269.9 388.2,270.7 386.5,271.4 385.0,271.9 383.2,272.3 381.8,272.5Z M382.2,271.5 381.0,271.6 379.2,271.7 378.0,271.6 376.8,271.5 375.2,271.1 373.8,270.7 372.5,270.2 371.2,269.7 370.0,269.0 368.8,268.1 367.8,267.4 366.8,266.5 366.2,265.8 365.5,264.8 364.9,263.8 364.4,262.5 364.2,261.5 364.0,260.5 364.0,259.5 364.1,258.2 364.5,256.8 364.9,255.5 365.5,254.2 366.1,253.0 366.8,252.0 367.8,250.8 368.5,250.0 369.5,249.1 370.5,248.4 371.5,247.8 372.8,247.2 374.0,246.7 375.5,246.3 377.5,246.0 379.0,245.8 380.5,245.8 382.2,246.0 384.0,246.3 385.5,246.8 387.0,247.3 388.2,248.0 389.5,248.8 390.6,249.8 391.6,250.8 392.5,251.8 393.4,253.2 394.2,254.8 394.7,256.0 395.1,257.5 395.3,258.8 395.3,260.0 395.3,261.2 395.0,262.4 394.6,263.5 394.0,264.7 393.2,265.7 392.3,266.8 391.2,267.7 390.0,268.6 388.5,269.5 387.0,270.2 385.5,270.8 384.0,271.2 382.2,271.5Z M381.5,270.8 378.8,270.8 376.5,270.6 375.0,270.2 373.8,269.8 372.5,269.3 371.2,268.7 370.0,267.9 369.0,267.2 368.0,266.4 367.2,265.6 366.6,264.8 366.0,263.8 365.5,262.8 365.2,261.8 365.0,260.8 364.9,259.8 365.0,258.5 365.3,257.2 365.7,256.0 366.2,254.8 366.8,253.5 367.5,252.5 369.0,250.7 369.8,250.0 370.8,249.2 371.8,248.6 373.0,248.0 374.2,247.5 375.5,247.2 377.0,246.9 378.5,246.7 380.0,246.6 381.2,246.7 383.0,246.9 384.5,247.3 386.0,247.8 387.2,248.4 388.5,249.1 389.6,250.0 390.7,251.0 391.5,251.9 392.4,253.2 393.1,254.5 393.7,255.8 394.1,257.0 394.3,258.2 394.4,259.5 394.4,260.8 394.2,261.8 393.9,262.8 393.5,263.8 392.8,264.8 392.0,265.8 391.0,266.7 390.0,267.5 388.8,268.3 387.2,269.2 386.0,269.7 384.5,270.2 383.0,270.5 381.5,270.8Z M381.2,270.0 378.8,270.1 376.5,269.8 374.0,269.1 371.7,268.0 369.7,266.8 368.8,266.0 368.0,265.2 367.3,264.2 366.8,263.5 366.3,262.5 366.0,261.5 365.8,260.5 365.8,259.8 365.8,259.0 366.0,257.8 366.5,256.1 366.9,255.0 367.5,253.9 368.2,252.8 369.0,251.8 369.8,251.0 370.7,250.2 371.5,249.7 373.5,248.6 375.8,247.9 377.2,247.6 378.8,247.4 380.0,247.3 381.2,247.4 383.0,247.7 384.5,248.1 386.0,248.6 387.0,249.1 388.0,249.7 389.0,250.5 390.0,251.4 390.8,252.2 391.5,253.3 392.2,254.6 392.8,255.8 393.2,257.1 393.5,258.2 393.6,259.5 393.5,260.5 393.4,261.5 393.0,262.6 392.6,263.5 391.9,264.5 391.2,265.3 390.0,266.5 389.0,267.2 387.8,268.0 386.8,268.5 385.5,269.0 384.0,269.5 382.5,269.8 381.2,270.0Z M381.2,269.0 379.0,269.1 376.8,268.8 374.5,268.2 372.4,267.2 370.5,266.0 369.6,265.2 368.9,264.5 367.8,263.0 367.4,262.2 367.1,261.2 367.0,260.5 366.9,259.5 367.0,258.5 367.2,257.5 367.9,255.5 368.4,254.5 369.0,253.5 370.2,252.0 371.8,250.7 373.5,249.7 374.5,249.2 375.8,248.8 377.0,248.5 378.5,248.3 379.8,248.3 380.8,248.3 382.0,248.5 383.5,248.8 384.8,249.2 386.0,249.7 387.0,250.2 388.0,250.9 389.0,251.8 389.8,252.6 390.5,253.6 391.2,254.8 391.8,256.0 392.1,257.0 392.3,258.0 392.5,259.0 392.5,260.0 392.3,261.0 392.1,262.0 391.7,262.8 391.1,263.8 390.5,264.5 389.8,265.3 388.8,266.1 387.8,266.8 386.5,267.5 385.2,268.1 384.0,268.5 382.5,268.8 381.2,269.0Z M381.0,268.0 379.0,268.1 377.0,267.8 375.0,267.2 373.0,266.3 371.2,265.2 370.4,264.5 369.8,263.8 368.8,262.5 368.5,261.8 368.2,261.0 368.1,260.2 368.1,259.2 368.3,257.5 369.0,255.6 370.0,253.9 371.2,252.5 372.8,251.3 374.5,250.3 376.2,249.7 377.5,249.5 378.8,249.3 379.8,249.3 381.0,249.3 382.2,249.5 383.5,249.8 384.7,250.2 385.8,250.7 386.8,251.3 387.7,252.0 388.5,252.8 389.1,253.5 389.8,254.5 390.3,255.5 390.8,256.5 391.1,257.5 391.3,258.5 391.3,259.5 391.3,260.5 391.1,261.2 390.8,262.0 390.4,262.8 389.9,263.5 389.2,264.2 388.4,265.0 387.5,265.7 386.5,266.3 385.5,266.8 384.4,267.2 383.2,267.6 381.0,268.0Z M380.2,267.0 378.5,267.0 376.5,266.6 374.8,266.0 373.0,265.1 371.6,264.0 370.4,262.8 369.7,261.5 369.4,260.8 369.3,260.0 369.2,259.2 369.4,258.2 369.9,256.5 370.8,254.8 372.0,253.2 373.2,252.2 375.0,251.3 376.8,250.7 378.8,250.4 380.8,250.4 383.0,250.8 384.9,251.5 386.5,252.5 387.9,253.8 388.9,255.2 389.7,257.0 390.1,258.8 390.1,260.2 389.9,261.0 389.6,261.8 388.8,263.0 387.5,264.2 386.0,265.3 384.2,266.2 382.2,266.7 380.2,267.0Z M381.5,265.8 379.8,265.9 378.2,265.8 376.8,265.5 375.2,265.0 373.8,264.2 372.5,263.2 371.6,262.2 370.9,261.2 370.6,260.2 370.5,259.0 370.7,257.8 371.2,256.5 371.8,255.2 372.8,254.1 373.8,253.2 375.0,252.5 376.0,252.1 377.0,251.8 379.0,251.4 380.8,251.4 382.8,251.8 384.5,252.5 386.0,253.5 387.2,254.8 388.1,256.2 388.5,257.1 388.7,258.0 388.9,259.5 388.7,260.8 388.0,262.0 386.9,263.2 385.2,264.4 383.5,265.2 381.5,265.8Z M381.8,264.5 380.2,264.7 379.0,264.7 377.8,264.5 376.5,264.2 375.2,263.6 374.2,263.0 373.2,262.2 372.5,261.2 372.1,260.5 371.9,259.5 371.9,258.5 372.2,257.5 372.6,256.5 373.2,255.5 374.0,254.6 375.0,253.9 376.5,253.1 378.0,252.7 379.8,252.6 381.2,252.7 382.8,253.1 384.2,253.8 385.5,254.8 386.5,256.0 387.2,257.5 387.5,258.8 387.4,260.0 387.1,261.0 386.5,261.8 386.1,262.2 384.8,263.2 383.4,264.0 381.8,264.5Z M381.2,263.3 380.2,263.4 379.2,263.4 378.2,263.3 377.2,263.0 376.2,262.6 375.2,262.0 374.5,261.4 374.0,260.8 373.6,260.0 373.4,259.2 373.5,258.5 373.6,257.8 374.0,257.0 374.4,256.2 375.0,255.6 375.8,255.0 377.0,254.4 378.2,254.0 379.5,253.9 380.8,253.9 382.0,254.2 383.2,254.8 384.3,255.5 385.2,256.5 385.7,257.5 385.9,258.5 385.9,259.5 385.6,260.5 384.8,261.5 383.8,262.2 382.5,262.9 381.2,263.3Z M380.5,261.8 379.0,261.8 377.8,261.5 376.5,260.8 375.7,260.0 375.5,259.5 375.4,259.0 375.4,258.5 375.5,258.0 375.7,257.5 376.1,257.0 376.9,256.2 377.8,255.8 378.8,255.6 379.5,255.5 380.5,255.5 381.4,255.8 382.2,256.1 383.0,256.6 383.5,257.2 383.9,258.0 384.1,258.8 383.9,259.5 383.7,260.0 383.0,260.7 382.2,261.2 381.5,261.5 380.5,261.8Z" fill="none" stroke="#2f86ea" stroke-width="0.65" stroke-linejoin="round"/>
<rect x="169.3" y="85.5" width="0.9" height="0.9" fill="#7a7a7a" fill-opacity="0.6"/>
<rect x="190.0" y="83.1" width="0.9" height="0.9" fill="#7a7a7a" fill-opacity="0.6"/>
<rect x="220.7" y="75.2" width="0.9" height="0.9" fill="#7a7a7a" fill-opacity="0.6"/>
<rect x="193.6" y="55.1" width="0.9" height="0.9" fill="#7a7a7a" fill-opacity="0.6"/>
<rect x="180.3" y="73.5" width="0.9" height="0.9" fill="#7a7a7a" fill-opacity="0.6"/>
<rect x="203.7" y="86.6" width="0.9" height="0.9" fill="#7a7a7a" fill-opacity="0.6"/>
<rect x="186.7" y="54.8" width="0.9" height="0.9" fill="#7a7a7a" fill-opacity="0.6"/>
<rect x="181.4" y="91.1" width="0.9" height="0.9" fill="#7a7a7a" fill-opacity="0.6"/>
<rect x="177.2" y="71.4" width="0.9" height="0.9" fill="#7a7a7a" fill-opacity="0.6"/>
<rect x="220.8" y="30.4" width="0.9" height="0.9" fill="#7a7a7a" fill-opacity="0.6"/>
<rect x="215.2" y="44.3" width="0.9" height="0.9" fill="#7a7a7a" fill-opacity="0.6"/>
<rect x="208.9" y="38.2" width="0.9" height="0.9" fill="#7a7a7a" fill-opacity="0.6"/>
<rect x="216.8" y="154.7" width="0.9" height="0.9" fill="#2db52d" fill-opacity="0.6"/>
<rect x="194.8" y="176.3" width="0.9" height="0.9" fill="#2db52d" fill-opacity="0.6"/>
<rect x="203.1" y="166.4" width="0.9" height="0.9" fill="#2db52d" fill-opacity="0.6"/>
<rect x="176.7" y="167.2" width="0.9" height="0.9" fill="#2db52d" fill-opacity="0.6"/>
<rect x="186.2" y="166.7" width="0.9" height="0.9" fill="#2db52d" fill-opacity="0.6"/>
<rect x="185.9" y="179.3" width="0.9" height="0.9" fill="#2db52d" fill-opacity="0.6"/>
<rect x="208.8" y="161.0" width="0.9" height="0.9" fill="#2db52d" fill-opacity="0.6"/>
<rect x="197.6" y="159.7" width="0.9" height="0.9" fill="#2db52d" fill-opacity="0.6"/>
<rect x="212.7" y="131.6" width="0.9" height="0.9" fill="#2db52d" fill-opacity="0.6"/>
<rect x="216.2" y="131.8" width="0.9" height="0.9" fill="#2db52d" fill-opacity="0.6"/>
<rect x="212.8" y="136.4" width="0.9" height="0.9" fill="#2db52d" fill-opacity="0.6"/>
<rect x="124.5" y="290.3" width="0.9" height="0.9" fill="#2f86ea" fill-opacity="0.6"/>
<rect x="119.2" y="289.2" width="0.9" height="0.9" fill="#2f86ea" fill-opacity="0.6"/>
<rect x="124.7" y="287.0" width="0.9" height="0.9" fill="#2f86ea" fill-opacity="0.6"/>
<rect x="156.3" y="258.7" width="0.9" height="0.9" fill="#2f86ea" fill-opacity="0.8"/>
<rect x="154.1" y="255.0" width="0.9" height="0.9" fill="#2f86ea" fill-opacity="0.8"/>
<rect x="406.5" y="74.8" width="0.9" height="0.9" fill="#7a7a7a" fill-opacity="0.6"/>
<rect x="436.7" y="74.4" width="0.9" height="0.9" fill="#7a7a7a" fill-opacity="0.6"/>
<rect x="466.9" y="73.9" width="0.9" height="0.9" fill="#7a7a7a" fill-opacity="0.6"/>
<rect x="403.7" y="60.8" width="0.9" height="0.9" fill="#7a7a7a" fill-opacity="0.6"/>
<rect x="453.3" y="151.4" width="0.9" height="0.9" fill="#2db52d" fill-opacity="0.6"/>
<rect x="486.8" y="179.8" width="0.9" height="0.9" fill="#2db52d" fill-opacity="0.6"/>
<rect x="476.4" y="160.9" width="0.9" height="0.9" fill="#2db52d" fill-opacity="0.6"/>
<rect x="475.7" y="147.2" width="0.9" height="0.9" fill="#2db52d" fill-opacity="0.6"/>
<rect x="427.8" y="160.5" width="0.9" height="0.9" fill="#2db52d" fill-opacity="0.6"/>
<rect x="466.8" y="161.4" width="0.9" height="0.9" fill="#2db52d" fill-opacity="0.6"/>
<rect x="375.6" y="275.7" width="0.9" height="0.9" fill="#2f86ea" fill-opacity="0.6"/>
<rect x="380.4" y="275.5" width="0.9" height="0.9" fill="#2f86ea" fill-opacity="0.6"/>
<rect x="376.3" y="276.1" width="0.9" height="0.9" fill="#2f86ea" fill-opacity="0.6"/>
<text x="564.50" y="72.40" font-size="20" text-anchor="middle" fill="#a6a6a6" textLength="86" lengthAdjust="spacingAndGlyphs" >unedited</text>
<text x="564.80" y="146.20" font-size="20" text-anchor="middle" fill="#1fae1f" textLength="51" lengthAdjust="spacingAndGlyphs" >mock</text>
<text x="564.80" y="173.90" font-size="20" text-anchor="middle" fill="#1fae1f" textLength="61" lengthAdjust="spacingAndGlyphs" >edited</text>
<text x="564.8" y="199" font-size="14.5" text-anchor="middle" fill="#1fae1f" textLength="84" lengthAdjust="spacingAndGlyphs">(<tspan font-style="italic">GFP</tspan> gRNA)</text>
<text x="564.80" y="247.60" font-size="20" text-anchor="middle" fill="#1c8ef0" font-style="italic" textLength="50" lengthAdjust="spacingAndGlyphs" >CCR5</text>
<text x="564.80" y="276.40" font-size="20" text-anchor="middle" fill="#1c8ef0" textLength="61" lengthAdjust="spacingAndGlyphs" >edited</text>
<text x="564.80" y="301.10" font-size="14.5" text-anchor="middle" fill="#1c8ef0" textLength="93" lengthAdjust="spacingAndGlyphs" >(TB48+TB50)</text>
<text x="5.60" y="407.80" font-size="24.5" text-anchor="start" fill="#000" textLength="14.2" lengthAdjust="spacingAndGlyphs" >B</text>
<rect x="0.50" y="420.70" width="23.60" height="12.80" fill="#9a9a9a" stroke="#111" stroke-width="1" rx="1"/>
<text x="28.90" y="432.30" font-size="16" text-anchor="start" fill="#000" textLength="65" lengthAdjust="spacingAndGlyphs" >unedited</text>
<rect x="117.70" y="420.70" width="23.60" height="12.80" fill="#1eba18" stroke="#111" stroke-width="1" rx="1"/>
<text x="146.10" y="421.00" font-size="16" text-anchor="start" fill="#000" textLength="93.2" lengthAdjust="spacingAndGlyphs" >mock edited</text>
<text x="146.1" y="442.7" font-size="16" textLength="99.4" lengthAdjust="spacingAndGlyphs">(<tspan font-style="italic">GFP</tspan> gRNA)</text>
<rect x="268.10" y="420.80" width="25.60" height="13.50" fill="#1a7ef5" stroke="#111" stroke-width="1" rx="1"/>
<text x="296.2" y="421.0" font-size="16" textLength="99.3" lengthAdjust="spacingAndGlyphs"><tspan font-style="italic">CCR5</tspan> edited</text>
<text x="296.20" y="442.70" font-size="16" text-anchor="start" fill="#000" textLength="105.4" lengthAdjust="spacingAndGlyphs" >(TB48+TB50)</text>
<line x1="69.00" y1="482.40" x2="69.00" y2="701.50" stroke="#000" stroke-width="2"/>
<line x1="68.00" y1="700.50" x2="395.80" y2="700.50" stroke="#000" stroke-width="2"/>
<line x1="60.00" y1="700.50" x2="69.00" y2="700.50" stroke="#000" stroke-width="2"/>
<text x="57.2" y="707.30" font-size="16.8" text-anchor="end">0</text>
<line x1="60.00" y1="646.23" x2="69.00" y2="646.23" stroke="#000" stroke-width="2"/>
<text x="57.2" y="653.02" font-size="16.8" text-anchor="end">20</text>
<line x1="60.00" y1="591.95" x2="69.00" y2="591.95" stroke="#000" stroke-width="2"/>
<text x="57.2" y="598.75" font-size="16.8" text-anchor="end">40</text>
<line x1="60.00" y1="537.67" x2="69.00" y2="537.67" stroke="#000" stroke-width="2"/>
<text x="57.2" y="544.47" font-size="16.8" text-anchor="end">60</text>
<line x1="60.00" y1="483.40" x2="69.00" y2="483.40" stroke="#000" stroke-width="2"/>
<text x="57.2" y="490.20" font-size="16.8" text-anchor="end">80</text>
<line x1="97.90" y1="700.50" x2="97.90" y2="709.50" stroke="#000" stroke-width="2"/>
<text x="97.90" y="728.3" font-size="16" text-anchor="middle">4</text>
<line x1="151.76" y1="700.50" x2="151.76" y2="709.50" stroke="#000" stroke-width="2"/>
<text x="151.76" y="728.3" font-size="16" text-anchor="middle">8</text>
<line x1="205.62" y1="700.50" x2="205.62" y2="709.50" stroke="#000" stroke-width="2"/>
<text x="205.62" y="728.3" font-size="16" text-anchor="middle">12</text>
<line x1="259.48" y1="700.50" x2="259.48" y2="709.50" stroke="#000" stroke-width="2"/>
<text x="259.48" y="728.3" font-size="16" text-anchor="middle">16</text>
<line x1="313.34" y1="700.50" x2="313.34" y2="709.50" stroke="#000" stroke-width="2"/>
<text x="313.34" y="728.3" font-size="16" text-anchor="middle">20</text>
<line x1="367.20" y1="700.50" x2="367.20" y2="709.50" stroke="#000" stroke-width="2"/>
<text x="367.20" y="728.3" font-size="16" text-anchor="middle">24</text>
<rect x="76.15" y="606.00" width="12.10" height="93.60" fill="#a0a0a0" stroke="#6a6a6a" stroke-width="0.9"/>
<rect x="91.85" y="582.90" width="12.10" height="116.70" fill="#1eba18" stroke="#11800f" stroke-width="0.9"/>
<line x1="82.20" y1="586.20" x2="82.20" y2="625.80" stroke="#111" stroke-width="1.2"/>
<line x1="78.70" y1="586.20" x2="85.70" y2="586.20" stroke="#111" stroke-width="1.2"/>
<line x1="78.70" y1="625.80" x2="85.70" y2="625.80" stroke="#111" stroke-width="1.2"/>
<line x1="97.90" y1="568.50" x2="97.90" y2="597.30" stroke="#111" stroke-width="1.2"/>
<line x1="94.40" y1="568.50" x2="101.40" y2="568.50" stroke="#111" stroke-width="1.2"/>
<line x1="94.40" y1="597.30" x2="101.40" y2="597.30" stroke="#111" stroke-width="1.2"/>
<rect x="130.01" y="622.00" width="12.10" height="77.60" fill="#a0a0a0" stroke="#6a6a6a" stroke-width="0.9"/>
<rect x="145.71" y="628.00" width="12.10" height="71.60" fill="#1eba18" stroke="#11800f" stroke-width="0.9"/>
<line x1="136.06" y1="609.50" x2="136.06" y2="635.20" stroke="#111" stroke-width="1.2"/>
<line x1="132.56" y1="609.50" x2="139.56" y2="609.50" stroke="#111" stroke-width="1.2"/>
<line x1="132.56" y1="635.20" x2="139.56" y2="635.20" stroke="#111" stroke-width="1.2"/>
<line x1="151.76" y1="615.40" x2="151.76" y2="640.50" stroke="#111" stroke-width="1.2"/>
<line x1="148.26" y1="615.40" x2="155.26" y2="615.40" stroke="#111" stroke-width="1.2"/>
<line x1="148.26" y1="640.50" x2="155.26" y2="640.50" stroke="#111" stroke-width="1.2"/>
<rect x="183.87" y="604.10" width="12.10" height="95.50" fill="#a0a0a0" stroke="#6a6a6a" stroke-width="0.9"/>
<rect x="199.57" y="615.30" width="12.10" height="84.30" fill="#1eba18" stroke="#11800f" stroke-width="0.9"/>
<line x1="189.92" y1="587.30" x2="189.92" y2="620.00" stroke="#111" stroke-width="1.2"/>
<line x1="186.42" y1="587.30" x2="193.42" y2="587.30" stroke="#111" stroke-width="1.2"/>
<line x1="186.42" y1="620.00" x2="193.42" y2="620.00" stroke="#111" stroke-width="1.2"/>
<line x1="205.62" y1="601.50" x2="205.62" y2="629.00" stroke="#111" stroke-width="1.2"/>
<line x1="202.12" y1="601.50" x2="209.12" y2="601.50" stroke="#111" stroke-width="1.2"/>
<line x1="202.12" y1="629.00" x2="209.12" y2="629.00" stroke="#111" stroke-width="1.2"/>
<rect x="237.73" y="623.20" width="12.10" height="76.40" fill="#a0a0a0" stroke="#6a6a6a" stroke-width="0.9"/>
<rect x="253.43" y="623.20" width="12.10" height="76.40" fill="#1eba18" stroke="#11800f" stroke-width="0.9"/>
<line x1="243.78" y1="594.20" x2="243.78" y2="651.40" stroke="#111" stroke-width="1.2"/>
<line x1="240.28" y1="594.20" x2="247.28" y2="594.20" stroke="#111" stroke-width="1.2"/>
<line x1="240.28" y1="651.40" x2="247.28" y2="651.40" stroke="#111" stroke-width="1.2"/>
<line x1="259.48" y1="605.30" x2="259.48" y2="641.00" stroke="#111" stroke-width="1.2"/>
<line x1="255.98" y1="605.30" x2="262.98" y2="605.30" stroke="#111" stroke-width="1.2"/>
<line x1="255.98" y1="641.00" x2="262.98" y2="641.00" stroke="#111" stroke-width="1.2"/>
<rect x="291.59" y="618.30" width="12.10" height="81.30" fill="#a0a0a0" stroke="#6a6a6a" stroke-width="0.9"/>
<rect x="307.29" y="627.40" width="12.10" height="72.20" fill="#1eba18" stroke="#11800f" stroke-width="0.9"/>
<line x1="297.64" y1="596.30" x2="297.64" y2="640.00" stroke="#111" stroke-width="1.2"/>
<line x1="294.14" y1="596.30" x2="301.14" y2="596.30" stroke="#111" stroke-width="1.2"/>
<line x1="294.14" y1="640.00" x2="301.14" y2="640.00" stroke="#111" stroke-width="1.2"/>
<line x1="313.34" y1="615.90" x2="313.34" y2="639.00" stroke="#111" stroke-width="1.2"/>
<line x1="309.84" y1="615.90" x2="316.84" y2="615.90" stroke="#111" stroke-width="1.2"/>
<line x1="309.84" y1="639.00" x2="316.84" y2="639.00" stroke="#111" stroke-width="1.2"/>
<rect x="345.45" y="598.20" width="12.10" height="101.40" fill="#a0a0a0" stroke="#6a6a6a" stroke-width="0.9"/>
<rect x="361.15" y="601.30" width="12.10" height="98.30" fill="#1eba18" stroke="#11800f" stroke-width="0.9"/>
<line x1="351.50" y1="575.30" x2="351.50" y2="620.30" stroke="#111" stroke-width="1.2"/>
<line x1="348.00" y1="575.30" x2="355.00" y2="575.30" stroke="#111" stroke-width="1.2"/>
<line x1="348.00" y1="620.30" x2="355.00" y2="620.30" stroke="#111" stroke-width="1.2"/>
<line x1="367.20" y1="578.00" x2="367.20" y2="624.00" stroke="#111" stroke-width="1.2"/>
<line x1="363.70" y1="578.00" x2="370.70" y2="578.00" stroke="#111" stroke-width="1.2"/>
<line x1="363.70" y1="624.00" x2="370.70" y2="624.00" stroke="#111" stroke-width="1.2"/>
<circle cx="79.50" cy="574.00" r="2.3" fill="#fff" stroke="#111" stroke-width="0.8"/>
<circle cx="83.90" cy="572.70" r="2.3" fill="#fff" stroke="#111" stroke-width="0.8"/>
<circle cx="81.90" cy="586.40" r="2.3" fill="#fff" stroke="#111" stroke-width="0.8"/>
<circle cx="86.20" cy="593.00" r="2.3" fill="#fff" stroke="#111" stroke-width="0.8"/>
<circle cx="77.70" cy="597.80" r="2.3" fill="#fff" stroke="#111" stroke-width="0.8"/>
<circle cx="81.90" cy="596.50" r="2.3" fill="#fff" stroke="#111" stroke-width="0.8"/>
<circle cx="77.50" cy="606.60" r="2.3" fill="#fff" stroke="#111" stroke-width="0.8"/>
<circle cx="81.90" cy="606.00" r="2.3" fill="#fff" stroke="#111" stroke-width="0.8"/>
<circle cx="86.20" cy="608.60" r="2.3" fill="#fff" stroke="#111" stroke-width="0.8"/>
<circle cx="81.90" cy="613.20" r="2.3" fill="#fff" stroke="#111" stroke-width="0.8"/>
<circle cx="81.90" cy="619.80" r="2.3" fill="#fff" stroke="#111" stroke-width="0.8"/>
<circle cx="77.70" cy="622.80" r="2.3" fill="#fff" stroke="#111" stroke-width="0.8"/>
<circle cx="86.20" cy="622.80" r="2.3" fill="#fff" stroke="#111" stroke-width="0.8"/>
<circle cx="81.90" cy="627.00" r="2.3" fill="#fff" stroke="#111" stroke-width="0.8"/>
<circle cx="81.90" cy="639.00" r="2.3" fill="#fff" stroke="#111" stroke-width="0.8"/>
<circle cx="97.70" cy="549.90" r="2.3" fill="#fff" stroke="#111" stroke-width="0.8"/>
<circle cx="97.70" cy="561.40" r="2.3" fill="#fff" stroke="#111" stroke-width="0.8"/>
<circle cx="97.70" cy="568.40" r="2.3" fill="#fff" stroke="#111" stroke-width="0.8"/>
<circle cx="97.70" cy="575.60" r="2.3" fill="#fff" stroke="#111" stroke-width="0.8"/>
<circle cx="93.70" cy="582.90" r="2.3" fill="#fff" stroke="#111" stroke-width="0.8"/>
<circle cx="102.00" cy="582.30" r="2.3" fill="#fff" stroke="#111" stroke-width="0.8"/>
<circle cx="97.70" cy="582.60" r="2.3" fill="#fff" stroke="#111" stroke-width="0.8"/>
<circle cx="102.00" cy="586.80" r="2.3" fill="#fff" stroke="#111" stroke-width="0.8"/>
<circle cx="96.30" cy="590.40" r="2.3" fill="#fff" stroke="#111" stroke-width="0.8"/>
<circle cx="99.50" cy="591.00" r="2.3" fill="#fff" stroke="#111" stroke-width="0.8"/>
<circle cx="96.30" cy="596.00" r="2.3" fill="#fff" stroke="#111" stroke-width="0.8"/>
<circle cx="99.50" cy="597.00" r="2.3" fill="#fff" stroke="#111" stroke-width="0.8"/>
<circle cx="97.70" cy="603.00" r="2.3" fill="#fff" stroke="#111" stroke-width="0.8"/>
<circle cx="131.60" cy="601.60" r="2.3" fill="#fff" stroke="#111" stroke-width="0.8"/>
<circle cx="139.80" cy="604.30" r="2.3" fill="#fff" stroke="#111" stroke-width="0.8"/>
<circle cx="135.40" cy="607.50" r="2.3" fill="#fff" stroke="#111" stroke-width="0.8"/>
<circle cx="131.60" cy="612.00" r="2.3" fill="#fff" stroke="#111" stroke-width="0.8"/>
<circle cx="139.80" cy="613.60" r="2.3" fill="#fff" stroke="#111" stroke-width="0.8"/>
<circle cx="135.70" cy="616.00" r="2.3" fill="#fff" stroke="#111" stroke-width="0.8"/>
<circle cx="131.60" cy="619.80" r="2.3" fill="#fff" stroke="#111" stroke-width="0.8"/>
<circle cx="139.80" cy="620.40" r="2.3" fill="#fff" stroke="#111" stroke-width="0.8"/>
<circle cx="131.60" cy="631.40" r="2.3" fill="#fff" stroke="#111" stroke-width="0.8"/>
<circle cx="135.70" cy="630.70" r="2.3" fill="#fff" stroke="#111" stroke-width="0.8"/>
<circle cx="139.80" cy="630.30" r="2.3" fill="#fff" stroke="#111" stroke-width="0.8"/>
<circle cx="135.70" cy="636.00" r="2.3" fill="#fff" stroke="#111" stroke-width="0.8"/>
<circle cx="139.80" cy="638.60" r="2.3" fill="#fff" stroke="#111" stroke-width="0.8"/>
<circle cx="131.60" cy="640.00" r="2.3" fill="#fff" stroke="#111" stroke-width="0.8"/>
<circle cx="151.40" cy="598.50" r="2.3" fill="#fff" stroke="#111" stroke-width="0.8"/>
<circle cx="151.50" cy="612.50" r="2.3" fill="#fff" stroke="#111" stroke-width="0.8"/>
<circle cx="149.50" cy="614.40" r="2.3" fill="#fff" stroke="#111" stroke-width="0.8"/>
<circle cx="154.00" cy="614.70" r="2.3" fill="#fff" stroke="#111" stroke-width="0.8"/>
<circle cx="147.60" cy="621.50" r="2.3" fill="#fff" stroke="#111" stroke-width="0.8"/>
<circle cx="151.40" cy="623.60" r="2.3" fill="#fff" stroke="#111" stroke-width="0.8"/>
<circle cx="156.00" cy="625.00" r="2.3" fill="#fff" stroke="#111" stroke-width="0.8"/>
<circle cx="147.60" cy="628.00" r="2.3" fill="#fff" stroke="#111" stroke-width="0.8"/>
<circle cx="149.50" cy="628.60" r="2.3" fill="#fff" stroke="#111" stroke-width="0.8"/>
<circle cx="153.50" cy="628.60" r="2.3" fill="#fff" stroke="#111" stroke-width="0.8"/>
<circle cx="149.50" cy="633.30" r="2.3" fill="#fff" stroke="#111" stroke-width="0.8"/>
<circle cx="153.80" cy="633.30" r="2.3" fill="#fff" stroke="#111" stroke-width="0.8"/>
<circle cx="147.60" cy="636.30" r="2.3" fill="#fff" stroke="#111" stroke-width="0.8"/>
<circle cx="151.40" cy="637.20" r="2.3" fill="#fff" stroke="#111" stroke-width="0.8"/>
<circle cx="149.50" cy="641.30" r="2.3" fill="#fff" stroke="#111" stroke-width="0.8"/>
<circle cx="153.60" cy="643.80" r="2.3" fill="#fff" stroke="#111" stroke-width="0.8"/>
<circle cx="149.50" cy="645.80" r="2.3" fill="#fff" stroke="#111" stroke-width="0.8"/>
<circle cx="189.50" cy="561.00" r="2.3" fill="#fff" stroke="#111" stroke-width="0.8"/>
<circle cx="189.50" cy="587.40" r="2.3" fill="#fff" stroke="#111" stroke-width="0.8"/>
<circle cx="187.50" cy="597.00" r="2.3" fill="#fff" stroke="#111" stroke-width="0.8"/>
<circle cx="191.50" cy="595.30" r="2.3" fill="#fff" stroke="#111" stroke-width="0.8"/>
<circle cx="189.50" cy="601.20" r="2.3" fill="#fff" stroke="#111" stroke-width="0.8"/>
<circle cx="189.50" cy="606.50" r="2.3" fill="#fff" stroke="#111" stroke-width="0.8"/>
<circle cx="186.50" cy="608.00" r="2.3" fill="#fff" stroke="#111" stroke-width="0.8"/>
<circle cx="193.80" cy="609.40" r="2.3" fill="#fff" stroke="#111" stroke-width="0.8"/>
<circle cx="185.50" cy="613.70" r="2.3" fill="#fff" stroke="#111" stroke-width="0.8"/>
<circle cx="189.50" cy="613.30" r="2.3" fill="#fff" stroke="#111" stroke-width="0.8"/>
<circle cx="193.80" cy="614.00" r="2.3" fill="#fff" stroke="#111" stroke-width="0.8"/>
<circle cx="189.50" cy="618.50" r="2.3" fill="#fff" stroke="#111" stroke-width="0.8"/>
<circle cx="189.50" cy="630.40" r="2.3" fill="#fff" stroke="#111" stroke-width="0.8"/>
<circle cx="205.60" cy="590.50" r="2.3" fill="#fff" stroke="#111" stroke-width="0.8"/>
<circle cx="205.60" cy="596.50" r="2.3" fill="#fff" stroke="#111" stroke-width="0.8"/>
<circle cx="208.00" cy="598.50" r="2.3" fill="#fff" stroke="#111" stroke-width="0.8"/>
<circle cx="205.60" cy="601.50" r="2.3" fill="#fff" stroke="#111" stroke-width="0.8"/>
<circle cx="201.60" cy="608.50" r="2.3" fill="#fff" stroke="#111" stroke-width="0.8"/>
<circle cx="209.80" cy="608.50" r="2.3" fill="#fff" stroke="#111" stroke-width="0.8"/>
<circle cx="203.50" cy="612.40" r="2.3" fill="#fff" stroke="#111" stroke-width="0.8"/>
<circle cx="207.60" cy="612.40" r="2.3" fill="#fff" stroke="#111" stroke-width="0.8"/>
<circle cx="205.60" cy="616.50" r="2.3" fill="#fff" stroke="#111" stroke-width="0.8"/>
<circle cx="201.60" cy="619.50" r="2.3" fill="#fff" stroke="#111" stroke-width="0.8"/>
<circle cx="209.80" cy="618.50" r="2.3" fill="#fff" stroke="#111" stroke-width="0.8"/>
<circle cx="205.60" cy="621.50" r="2.3" fill="#fff" stroke="#111" stroke-width="0.8"/>
<circle cx="201.60" cy="626.00" r="2.3" fill="#fff" stroke="#111" stroke-width="0.8"/>
<circle cx="203.50" cy="627.00" r="2.3" fill="#fff" stroke="#111" stroke-width="0.8"/>
<circle cx="207.60" cy="627.50" r="2.3" fill="#fff" stroke="#111" stroke-width="0.8"/>
<circle cx="205.50" cy="629.50" r="2.3" fill="#fff" stroke="#111" stroke-width="0.8"/>
<circle cx="205.50" cy="639.50" r="2.3" fill="#fff" stroke="#111" stroke-width="0.8"/>
<circle cx="243.50" cy="531.00" r="2.3" fill="#fff" stroke="#111" stroke-width="0.8"/>
<circle cx="243.50" cy="605.80" r="2.3" fill="#fff" stroke="#111" stroke-width="0.8"/>
<circle cx="243.50" cy="611.70" r="2.3" fill="#fff" stroke="#111" stroke-width="0.8"/>
<circle cx="239.50" cy="618.20" r="2.3" fill="#fff" stroke="#111" stroke-width="0.8"/>
<circle cx="247.50" cy="618.50" r="2.3" fill="#fff" stroke="#111" stroke-width="0.8"/>
<circle cx="243.50" cy="620.50" r="2.3" fill="#fff" stroke="#111" stroke-width="0.8"/>
<circle cx="241.50" cy="626.00" r="2.3" fill="#fff" stroke="#111" stroke-width="0.8"/>
<circle cx="245.50" cy="626.00" r="2.3" fill="#fff" stroke="#111" stroke-width="0.8"/>
<circle cx="243.50" cy="631.50" r="2.3" fill="#fff" stroke="#111" stroke-width="0.8"/>
<circle cx="239.50" cy="638.10" r="2.3" fill="#fff" stroke="#111" stroke-width="0.8"/>
<circle cx="243.50" cy="636.50" r="2.3" fill="#fff" stroke="#111" stroke-width="0.8"/>
<circle cx="247.50" cy="636.50" r="2.3" fill="#fff" stroke="#111" stroke-width="0.8"/>
<circle cx="243.50" cy="643.10" r="2.3" fill="#fff" stroke="#111" stroke-width="0.8"/>
<circle cx="247.50" cy="641.50" r="2.3" fill="#fff" stroke="#111" stroke-width="0.8"/>
<circle cx="243.50" cy="655.10" r="2.3" fill="#fff" stroke="#111" stroke-width="0.8"/>
<circle cx="259.50" cy="584.70" r="2.3" fill="#fff" stroke="#111" stroke-width="0.8"/>
<circle cx="258.00" cy="594.40" r="2.3" fill="#fff" stroke="#111" stroke-width="0.8"/>
<circle cx="261.00" cy="596.50" r="2.3" fill="#fff" stroke="#111" stroke-width="0.8"/>
<circle cx="259.50" cy="612.00" r="2.3" fill="#fff" stroke="#111" stroke-width="0.8"/>
<circle cx="262.50" cy="612.50" r="2.3" fill="#fff" stroke="#111" stroke-width="0.8"/>
<circle cx="264.00" cy="615.50" r="2.3" fill="#fff" stroke="#111" stroke-width="0.8"/>
<circle cx="258.00" cy="618.50" r="2.3" fill="#fff" stroke="#111" stroke-width="0.8"/>
<circle cx="261.50" cy="618.50" r="2.3" fill="#fff" stroke="#111" stroke-width="0.8"/>
<circle cx="259.50" cy="623.50" r="2.3" fill="#fff" stroke="#111" stroke-width="0.8"/>
<circle cx="256.50" cy="625.00" r="2.3" fill="#fff" stroke="#111" stroke-width="0.8"/>
<circle cx="259.50" cy="628.00" r="2.3" fill="#fff" stroke="#111" stroke-width="0.8"/>
<circle cx="255.00" cy="632.50" r="2.3" fill="#fff" stroke="#111" stroke-width="0.8"/>
<circle cx="261.00" cy="633.00" r="2.3" fill="#fff" stroke="#111" stroke-width="0.8"/>
<circle cx="257.00" cy="636.00" r="2.3" fill="#fff" stroke="#111" stroke-width="0.8"/>
<circle cx="263.50" cy="636.00" r="2.3" fill="#fff" stroke="#111" stroke-width="0.8"/>
<circle cx="258.00" cy="640.00" r="2.3" fill="#fff" stroke="#111" stroke-width="0.8"/>
<circle cx="261.00" cy="643.00" r="2.3" fill="#fff" stroke="#111" stroke-width="0.8"/>
<circle cx="259.50" cy="650.90" r="2.3" fill="#fff" stroke="#111" stroke-width="0.8"/>
<circle cx="297.40" cy="564.80" r="2.3" fill="#fff" stroke="#111" stroke-width="0.8"/>
<circle cx="299.50" cy="592.60" r="2.3" fill="#fff" stroke="#111" stroke-width="0.8"/>
<circle cx="297.40" cy="596.60" r="2.3" fill="#fff" stroke="#111" stroke-width="0.8"/>
<circle cx="297.40" cy="600.30" r="2.3" fill="#fff" stroke="#111" stroke-width="0.8"/>
<circle cx="297.40" cy="606.60" r="2.3" fill="#fff" stroke="#111" stroke-width="0.8"/>
<circle cx="301.50" cy="623.00" r="2.3" fill="#fff" stroke="#111" stroke-width="0.8"/>
<circle cx="293.40" cy="626.00" r="2.3" fill="#fff" stroke="#111" stroke-width="0.8"/>
<circle cx="297.40" cy="627.00" r="2.3" fill="#fff" stroke="#111" stroke-width="0.8"/>
<circle cx="299.50" cy="634.00" r="2.3" fill="#fff" stroke="#111" stroke-width="0.8"/>
<circle cx="295.40" cy="638.20" r="2.3" fill="#fff" stroke="#111" stroke-width="0.8"/>
<circle cx="299.50" cy="638.20" r="2.3" fill="#fff" stroke="#111" stroke-width="0.8"/>
<circle cx="313.30" cy="609.30" r="2.3" fill="#fff" stroke="#111" stroke-width="0.8"/>
<circle cx="313.30" cy="612.00" r="2.3" fill="#fff" stroke="#111" stroke-width="0.8"/>
<circle cx="313.30" cy="615.60" r="2.3" fill="#fff" stroke="#111" stroke-width="0.8"/>
<circle cx="313.30" cy="621.00" r="2.3" fill="#fff" stroke="#111" stroke-width="0.8"/>
<circle cx="313.30" cy="625.40" r="2.3" fill="#fff" stroke="#111" stroke-width="0.8"/>
<circle cx="313.30" cy="629.00" r="2.3" fill="#fff" stroke="#111" stroke-width="0.8"/>
<circle cx="309.50" cy="632.00" r="2.3" fill="#fff" stroke="#111" stroke-width="0.8"/>
<circle cx="316.80" cy="632.50" r="2.3" fill="#fff" stroke="#111" stroke-width="0.8"/>
<circle cx="311.40" cy="634.50" r="2.3" fill="#fff" stroke="#111" stroke-width="0.8"/>
<circle cx="318.50" cy="634.80" r="2.3" fill="#fff" stroke="#111" stroke-width="0.8"/>
<circle cx="313.30" cy="637.60" r="2.3" fill="#fff" stroke="#111" stroke-width="0.8"/>
<circle cx="313.30" cy="644.00" r="2.3" fill="#fff" stroke="#111" stroke-width="0.8"/>
<circle cx="351.20" cy="532.00" r="2.3" fill="#fff" stroke="#111" stroke-width="0.8"/>
<circle cx="351.20" cy="571.30" r="2.3" fill="#fff" stroke="#111" stroke-width="0.8"/>
<circle cx="349.50" cy="588.50" r="2.3" fill="#fff" stroke="#111" stroke-width="0.8"/>
<circle cx="353.00" cy="588.50" r="2.3" fill="#fff" stroke="#111" stroke-width="0.8"/>
<circle cx="351.20" cy="594.00" r="2.3" fill="#fff" stroke="#111" stroke-width="0.8"/>
<circle cx="347.50" cy="600.00" r="2.3" fill="#fff" stroke="#111" stroke-width="0.8"/>
<circle cx="352.50" cy="601.00" r="2.3" fill="#fff" stroke="#111" stroke-width="0.8"/>
<circle cx="349.50" cy="604.00" r="2.3" fill="#fff" stroke="#111" stroke-width="0.8"/>
<circle cx="347.00" cy="607.50" r="2.3" fill="#fff" stroke="#111" stroke-width="0.8"/>
<circle cx="350.00" cy="608.50" r="2.3" fill="#fff" stroke="#111" stroke-width="0.8"/>
<circle cx="353.00" cy="610.50" r="2.3" fill="#fff" stroke="#111" stroke-width="0.8"/>
<circle cx="355.50" cy="612.00" r="2.3" fill="#fff" stroke="#111" stroke-width="0.8"/>
<circle cx="349.50" cy="613.70" r="2.3" fill="#fff" stroke="#111" stroke-width="0.8"/>
<circle cx="352.50" cy="617.30" r="2.3" fill="#fff" stroke="#111" stroke-width="0.8"/>
<circle cx="351.20" cy="622.70" r="2.3" fill="#fff" stroke="#111" stroke-width="0.8"/>
<circle cx="367.00" cy="540.20" r="2.3" fill="#fff" stroke="#111" stroke-width="0.8"/>
<circle cx="367.00" cy="571.30" r="2.3" fill="#fff" stroke="#111" stroke-width="0.8"/>
<circle cx="364.70" cy="577.30" r="2.3" fill="#fff" stroke="#111" stroke-width="0.8"/>
<circle cx="369.30" cy="578.50" r="2.3" fill="#fff" stroke="#111" stroke-width="0.8"/>
<circle cx="371.50" cy="587.00" r="2.3" fill="#fff" stroke="#111" stroke-width="0.8"/>
<circle cx="362.50" cy="589.50" r="2.3" fill="#fff" stroke="#111" stroke-width="0.8"/>
<circle cx="367.00" cy="591.60" r="2.3" fill="#fff" stroke="#111" stroke-width="0.8"/>
<circle cx="367.00" cy="597.60" r="2.3" fill="#fff" stroke="#111" stroke-width="0.8"/>
<circle cx="371.50" cy="601.50" r="2.3" fill="#fff" stroke="#111" stroke-width="0.8"/>
<circle cx="367.00" cy="605.00" r="2.3" fill="#fff" stroke="#111" stroke-width="0.8"/>
<circle cx="363.00" cy="606.00" r="2.3" fill="#fff" stroke="#111" stroke-width="0.8"/>
<circle cx="371.50" cy="610.50" r="2.3" fill="#fff" stroke="#111" stroke-width="0.8"/>
<circle cx="367.00" cy="613.50" r="2.3" fill="#fff" stroke="#111" stroke-width="0.8"/>
<circle cx="369.00" cy="617.00" r="2.3" fill="#fff" stroke="#111" stroke-width="0.8"/>
<circle cx="365.00" cy="619.00" r="2.3" fill="#fff" stroke="#111" stroke-width="0.8"/>
<circle cx="367.00" cy="625.50" r="2.3" fill="#fff" stroke="#111" stroke-width="0.8"/>
<circle cx="371.50" cy="624.50" r="2.3" fill="#fff" stroke="#111" stroke-width="0.8"/>
<circle cx="371.50" cy="629.50" r="2.3" fill="#fff" stroke="#111" stroke-width="0.8"/>
<circle cx="363.00" cy="633.50" r="2.3" fill="#fff" stroke="#111" stroke-width="0.8"/>
<circle cx="118.40" cy="690.80" r="2.3" fill="#fff" stroke="#111" stroke-width="0.8"/>
<circle cx="110.00" cy="696.50" r="2.3" fill="#fff" stroke="#111" stroke-width="0.8"/>
<circle cx="117.50" cy="697.00" r="2.3" fill="#fff" stroke="#111" stroke-width="0.8"/>
<circle cx="111.00" cy="700.50" r="2.3" fill="#fff" stroke="#111" stroke-width="0.8"/>
<circle cx="115.50" cy="701.50" r="2.3" fill="#fff" stroke="#111" stroke-width="0.8"/>
<path d="M109.10,693.90H118.10M113.60,693.90V698.70M109.10,698.70H118.10" stroke="#1a7ef5" stroke-width="2.3" fill="none"/>
<circle cx="171.50" cy="690.50" r="2.3" fill="#fff" stroke="#111" stroke-width="0.8"/>
<circle cx="163.50" cy="696.50" r="2.3" fill="#fff" stroke="#111" stroke-width="0.8"/>
<circle cx="171.50" cy="697.00" r="2.3" fill="#fff" stroke="#111" stroke-width="0.8"/>
<circle cx="164.50" cy="700.50" r="2.3" fill="#fff" stroke="#111" stroke-width="0.8"/>
<circle cx="169.00" cy="701.50" r="2.3" fill="#fff" stroke="#111" stroke-width="0.8"/>
<path d="M162.96,693.90H171.96M167.46,693.90V697.50M162.96,697.50H171.96" stroke="#1a7ef5" stroke-width="2.3" fill="none"/>
<circle cx="221.20" cy="691.50" r="2.3" fill="#fff" stroke="#111" stroke-width="0.8"/>
<circle cx="216.20" cy="697.00" r="2.3" fill="#fff" stroke="#111" stroke-width="0.8"/>
<circle cx="226.00" cy="697.00" r="2.3" fill="#fff" stroke="#111" stroke-width="0.8"/>
<circle cx="220.50" cy="701.50" r="2.3" fill="#fff" stroke="#111" stroke-width="0.8"/>
<path d="M216.82,694.80H225.82M221.32,694.80V699.10M216.82,699.10H225.82" stroke="#1a7ef5" stroke-width="2.3" fill="none"/>
<circle cx="276.10" cy="687.60" r="2.3" fill="#fff" stroke="#111" stroke-width="0.8"/>
<circle cx="280.00" cy="692.30" r="2.3" fill="#fff" stroke="#111" stroke-width="0.8"/>
<circle cx="270.60" cy="695.10" r="2.3" fill="#fff" stroke="#111" stroke-width="0.8"/>
<circle cx="279.20" cy="697.20" r="2.3" fill="#fff" stroke="#111" stroke-width="0.8"/>
<circle cx="270.20" cy="698.80" r="2.3" fill="#fff" stroke="#111" stroke-width="0.8"/>
<circle cx="275.50" cy="701.30" r="2.3" fill="#fff" stroke="#111" stroke-width="0.8"/>
<path d="M270.68,691.60H279.68M275.18,691.60V698.80M270.68,698.80H279.68" stroke="#1a7ef5" stroke-width="2.3" fill="none"/>
<circle cx="329.10" cy="693.60" r="2.3" fill="#fff" stroke="#111" stroke-width="0.8"/>
<circle cx="324.40" cy="696.60" r="2.3" fill="#fff" stroke="#111" stroke-width="0.8"/>
<circle cx="333.80" cy="696.90" r="2.3" fill="#fff" stroke="#111" stroke-width="0.8"/>
<circle cx="326.00" cy="701.80" r="2.3" fill="#fff" stroke="#111" stroke-width="0.8"/>
<circle cx="332.00" cy="701.80" r="2.3" fill="#fff" stroke="#111" stroke-width="0.8"/>
<path d="M324.54,696.90H333.54M329.04,696.90V700.80M324.54,700.80H333.54" stroke="#1a7ef5" stroke-width="2.3" fill="none"/>
<circle cx="383.50" cy="693.80" r="2.3" fill="#fff" stroke="#111" stroke-width="0.8"/>
<circle cx="379.00" cy="696.60" r="2.3" fill="#fff" stroke="#111" stroke-width="0.8"/>
<circle cx="388.30" cy="696.90" r="2.3" fill="#fff" stroke="#111" stroke-width="0.8"/>
<circle cx="380.50" cy="701.80" r="2.3" fill="#fff" stroke="#111" stroke-width="0.8"/>
<circle cx="386.50" cy="701.80" r="2.3" fill="#fff" stroke="#111" stroke-width="0.8"/>
<path d="M378.40,696.00H387.40M382.90,696.00V700.90M378.40,700.90H387.40" stroke="#1a7ef5" stroke-width="2.3" fill="none"/>
<text x="147.60" y="753.30" font-size="16" text-anchor="start" textLength="171.6" lengthAdjust="spacingAndGlyphs">Weeks post transplant</text>
<text x="23.6" y="591" font-size="16.5" text-anchor="middle" transform="rotate(-90 23.6 591)" textLength="188" lengthAdjust="spacingAndGlyphs">%CCR5<tspan dy="-6" font-size="10">+</tspan><tspan dy="6"> of total CD33</tspan><tspan dy="-6" font-size="10">+</tspan></text>
<line x1="80.90" y1="490.70" x2="115.10" y2="490.70" stroke="#000" stroke-width="2.2"/>
<line x1="97.40" y1="513.40" x2="115.20" y2="513.40" stroke="#000" stroke-width="2.2"/>
<text x="98.20" y="490.20" font-size="20" font-weight="bold" text-anchor="middle" textLength="14.7" lengthAdjust="spacingAndGlyphs">**</text>
<text x="106.90" y="513.20" font-size="20" font-weight="bold" text-anchor="middle" textLength="14.7" lengthAdjust="spacingAndGlyphs">**</text>
<line x1="134.76" y1="490.70" x2="168.96" y2="490.70" stroke="#000" stroke-width="2.2"/>
<line x1="151.26" y1="513.40" x2="169.06" y2="513.40" stroke="#000" stroke-width="2.2"/>
<text x="152.06" y="490.20" font-size="20" font-weight="bold" text-anchor="middle" textLength="14.7" lengthAdjust="spacingAndGlyphs">**</text>
<text x="160.76" y="513.20" font-size="20" font-weight="bold" text-anchor="middle" textLength="14.7" lengthAdjust="spacingAndGlyphs">**</text>
<line x1="188.62" y1="490.70" x2="222.82" y2="490.70" stroke="#000" stroke-width="2.2"/>
<line x1="205.12" y1="513.40" x2="222.92" y2="513.40" stroke="#000" stroke-width="2.2"/>
<text x="205.92" y="490.20" font-size="20" font-weight="bold" text-anchor="middle" textLength="14.7" lengthAdjust="spacingAndGlyphs">**</text>
<text x="214.62" y="513.20" font-size="20" font-weight="bold" text-anchor="middle" textLength="14.7" lengthAdjust="spacingAndGlyphs">**</text>
<line x1="242.48" y1="490.70" x2="276.68" y2="490.70" stroke="#000" stroke-width="2.2"/>
<line x1="258.98" y1="513.40" x2="276.78" y2="513.40" stroke="#000" stroke-width="2.2"/>
<text x="259.78" y="490.20" font-size="20" font-weight="bold" text-anchor="middle" textLength="14.7" lengthAdjust="spacingAndGlyphs">**</text>
<text x="268.48" y="513.20" font-size="20" font-weight="bold" text-anchor="middle" textLength="14.7" lengthAdjust="spacingAndGlyphs">**</text>
<line x1="296.34" y1="490.70" x2="330.54" y2="490.70" stroke="#000" stroke-width="2.2"/>
<line x1="312.84" y1="513.40" x2="330.64" y2="513.40" stroke="#000" stroke-width="2.2"/>
<text x="313.64" y="490.20" font-size="20" font-weight="bold" text-anchor="middle" textLength="14.7" lengthAdjust="spacingAndGlyphs">**</text>
<text x="322.34" y="513.20" font-size="20" font-weight="bold" text-anchor="middle" textLength="14.7" lengthAdjust="spacingAndGlyphs">**</text>
<line x1="350.20" y1="490.70" x2="384.40" y2="490.70" stroke="#000" stroke-width="2.2"/>
<line x1="366.70" y1="513.40" x2="384.50" y2="513.40" stroke="#000" stroke-width="2.2"/>
<text x="367.50" y="490.20" font-size="20" font-weight="bold" text-anchor="middle" textLength="14.7" lengthAdjust="spacingAndGlyphs">**</text>
<text x="376.20" y="513.20" font-size="20" font-weight="bold" text-anchor="middle" textLength="14.7" lengthAdjust="spacingAndGlyphs">**</text>
<text x="469.20" y="407.80" font-size="24.5" text-anchor="start" textLength="14.6" lengthAdjust="spacingAndGlyphs">C</text>
<line x1="526.20" y1="482.50" x2="526.20" y2="701.60" stroke="#000" stroke-width="1.8"/>
<line x1="525.30" y1="700.80" x2="670.80" y2="700.80" stroke="#000" stroke-width="2"/>
<line x1="517.00" y1="700.80" x2="526.20" y2="700.80" stroke="#000" stroke-width="1.8"/>
<text x="512.3" y="707.60" font-size="16.8" text-anchor="end">0</text>
<line x1="517.00" y1="646.47" x2="526.20" y2="646.47" stroke="#000" stroke-width="1.8"/>
<text x="512.3" y="653.27" font-size="16.8" text-anchor="end">20</text>
<line x1="517.00" y1="592.15" x2="526.20" y2="592.15" stroke="#000" stroke-width="1.8"/>
<text x="512.3" y="598.95" font-size="16.8" text-anchor="end">40</text>
<line x1="517.00" y1="537.83" x2="526.20" y2="537.83" stroke="#000" stroke-width="1.8"/>
<text x="512.3" y="544.62" font-size="16.8" text-anchor="end">60</text>
<line x1="517.00" y1="483.50" x2="526.20" y2="483.50" stroke="#000" stroke-width="1.8"/>
<text x="512.3" y="490.30" font-size="16.8" text-anchor="end">80</text>
<line x1="563.00" y1="700.80" x2="563.00" y2="709.50" stroke="#000" stroke-width="2"/>
<text x="563.00" y="729.8" font-size="16" text-anchor="middle">20</text>
<line x1="633.60" y1="700.80" x2="633.60" y2="709.50" stroke="#000" stroke-width="2"/>
<text x="633.60" y="729.8" font-size="16" text-anchor="middle">24</text>
<rect x="534.00" y="613.10" width="16.40" height="86.80" fill="#a0a0a0" stroke="#6a6a6a" stroke-width="0.9"/>
<rect x="554.80" y="607.10" width="16.40" height="92.80" fill="#1eba18" stroke="#11800f" stroke-width="0.9"/>
<line x1="542.20" y1="550.50" x2="542.20" y2="674.90" stroke="#111" stroke-width="1.1"/>
<line x1="537.70" y1="550.50" x2="546.70" y2="550.50" stroke="#111" stroke-width="1.1"/>
<line x1="537.70" y1="674.90" x2="546.70" y2="674.90" stroke="#111" stroke-width="1.1"/>
<line x1="563.00" y1="552.30" x2="563.00" y2="661.90" stroke="#111" stroke-width="1.1"/>
<line x1="558.50" y1="552.30" x2="567.50" y2="552.30" stroke="#111" stroke-width="1.1"/>
<line x1="558.50" y1="661.90" x2="567.50" y2="661.90" stroke="#111" stroke-width="1.1"/>
<rect x="604.60" y="631.80" width="16.40" height="68.10" fill="#a0a0a0" stroke="#6a6a6a" stroke-width="0.9"/>
<rect x="625.40" y="560.60" width="16.40" height="139.30" fill="#1eba18" stroke="#11800f" stroke-width="0.9"/>
<line x1="612.80" y1="584.90" x2="612.80" y2="679.00" stroke="#111" stroke-width="1.1"/>
<line x1="608.30" y1="584.90" x2="617.30" y2="584.90" stroke="#111" stroke-width="1.1"/>
<line x1="608.30" y1="679.00" x2="617.30" y2="679.00" stroke="#111" stroke-width="1.1"/>
<line x1="633.60" y1="517.90" x2="633.60" y2="603.50" stroke="#111" stroke-width="1.1"/>
<line x1="629.10" y1="517.90" x2="638.10" y2="517.90" stroke="#111" stroke-width="1.1"/>
<line x1="629.10" y1="603.50" x2="638.10" y2="603.50" stroke="#111" stroke-width="1.1"/>
<circle cx="542.10" cy="490.30" r="2.0" fill="#fff" stroke="#111" stroke-width="0.7"/>
<circle cx="542.10" cy="514.30" r="2.0" fill="#fff" stroke="#111" stroke-width="0.7"/>
<circle cx="542.20" cy="554.50" r="2.0" fill="#fff" stroke="#111" stroke-width="0.7"/>
<circle cx="542.20" cy="600.80" r="2.0" fill="#fff" stroke="#111" stroke-width="0.7"/>
<circle cx="542.20" cy="621.00" r="2.0" fill="#fff" stroke="#111" stroke-width="0.7"/>
<circle cx="542.20" cy="628.30" r="2.0" fill="#fff" stroke="#111" stroke-width="0.7"/>
<circle cx="542.20" cy="635.00" r="2.0" fill="#fff" stroke="#111" stroke-width="0.7"/>
<circle cx="536.20" cy="644.00" r="2.0" fill="#fff" stroke="#111" stroke-width="0.7"/>
<circle cx="548.20" cy="644.00" r="2.0" fill="#fff" stroke="#111" stroke-width="0.7"/>
<circle cx="542.20" cy="659.70" r="2.0" fill="#fff" stroke="#111" stroke-width="0.7"/>
<circle cx="542.20" cy="672.00" r="2.0" fill="#fff" stroke="#111" stroke-width="0.7"/>
<circle cx="542.20" cy="691.40" r="2.0" fill="#fff" stroke="#111" stroke-width="0.7"/>
<circle cx="562.70" cy="497.70" r="2.0" fill="#fff" stroke="#111" stroke-width="0.7"/>
<circle cx="562.70" cy="531.40" r="2.0" fill="#fff" stroke="#111" stroke-width="0.7"/>
<circle cx="563.00" cy="564.20" r="2.0" fill="#fff" stroke="#111" stroke-width="0.7"/>
<circle cx="557.00" cy="575.80" r="2.0" fill="#fff" stroke="#111" stroke-width="0.7"/>
<circle cx="569.00" cy="574.00" r="2.0" fill="#fff" stroke="#111" stroke-width="0.7"/>
<circle cx="563.00" cy="588.10" r="2.0" fill="#fff" stroke="#111" stroke-width="0.7"/>
<circle cx="563.00" cy="596.40" r="2.0" fill="#fff" stroke="#111" stroke-width="0.7"/>
<circle cx="563.00" cy="623.90" r="2.0" fill="#fff" stroke="#111" stroke-width="0.7"/>
<circle cx="563.00" cy="636.20" r="2.0" fill="#fff" stroke="#111" stroke-width="0.7"/>
<circle cx="563.00" cy="640.20" r="2.0" fill="#fff" stroke="#111" stroke-width="0.7"/>
<circle cx="557.00" cy="659.20" r="2.0" fill="#fff" stroke="#111" stroke-width="0.7"/>
<circle cx="569.00" cy="657.40" r="2.0" fill="#fff" stroke="#111" stroke-width="0.7"/>
<circle cx="557.00" cy="677.60" r="2.0" fill="#fff" stroke="#111" stroke-width="0.7"/>
<circle cx="569.00" cy="674.20" r="2.0" fill="#fff" stroke="#111" stroke-width="0.7"/>
<circle cx="612.50" cy="539.10" r="2.0" fill="#fff" stroke="#111" stroke-width="0.7"/>
<circle cx="613.00" cy="571.20" r="2.0" fill="#fff" stroke="#111" stroke-width="0.7"/>
<circle cx="613.00" cy="602.20" r="2.0" fill="#fff" stroke="#111" stroke-width="0.7"/>
<circle cx="613.00" cy="610.00" r="2.0" fill="#fff" stroke="#111" stroke-width="0.7"/>
<circle cx="607.00" cy="631.00" r="2.0" fill="#fff" stroke="#111" stroke-width="0.7"/>
<circle cx="619.00" cy="635.10" r="2.0" fill="#fff" stroke="#111" stroke-width="0.7"/>
<circle cx="613.00" cy="662.00" r="2.0" fill="#fff" stroke="#111" stroke-width="0.7"/>
<circle cx="607.00" cy="670.20" r="2.0" fill="#fff" stroke="#111" stroke-width="0.7"/>
<circle cx="619.00" cy="669.20" r="2.0" fill="#fff" stroke="#111" stroke-width="0.7"/>
<circle cx="613.00" cy="675.70" r="2.0" fill="#fff" stroke="#111" stroke-width="0.7"/>
<circle cx="613.00" cy="684.10" r="2.0" fill="#fff" stroke="#111" stroke-width="0.7"/>
<circle cx="627.20" cy="493.80" r="2.0" fill="#fff" stroke="#111" stroke-width="0.7"/>
<circle cx="639.60" cy="497.50" r="2.0" fill="#fff" stroke="#111" stroke-width="0.7"/>
<circle cx="633.40" cy="514.20" r="2.0" fill="#fff" stroke="#111" stroke-width="0.7"/>
<circle cx="627.20" cy="525.60" r="2.0" fill="#fff" stroke="#111" stroke-width="0.7"/>
<circle cx="639.60" cy="524.30" r="2.0" fill="#fff" stroke="#111" stroke-width="0.7"/>
<circle cx="633.40" cy="543.50" r="2.0" fill="#fff" stroke="#111" stroke-width="0.7"/>
<circle cx="627.60" cy="566.70" r="2.0" fill="#fff" stroke="#111" stroke-width="0.7"/>
<circle cx="639.80" cy="566.00" r="2.0" fill="#fff" stroke="#111" stroke-width="0.7"/>
<circle cx="633.80" cy="571.80" r="2.0" fill="#fff" stroke="#111" stroke-width="0.7"/>
<circle cx="633.80" cy="579.80" r="2.0" fill="#fff" stroke="#111" stroke-width="0.7"/>
<circle cx="627.60" cy="584.50" r="2.0" fill="#fff" stroke="#111" stroke-width="0.7"/>
<circle cx="639.80" cy="585.50" r="2.0" fill="#fff" stroke="#111" stroke-width="0.7"/>
<circle cx="633.80" cy="606.00" r="2.0" fill="#fff" stroke="#111" stroke-width="0.7"/>
<circle cx="633.80" cy="617.10" r="2.0" fill="#fff" stroke="#111" stroke-width="0.7"/>
<circle cx="633.80" cy="632.90" r="2.0" fill="#fff" stroke="#111" stroke-width="0.7"/>
<circle cx="577.60" cy="697.20" r="2.0" fill="#fff" stroke="#111" stroke-width="0.7"/>
<circle cx="590.80" cy="699.00" r="2.0" fill="#fff" stroke="#111" stroke-width="0.7"/>
<circle cx="654.20" cy="686.00" r="2.0" fill="#fff" stroke="#111" stroke-width="0.7"/>
<circle cx="648.60" cy="698.30" r="2.0" fill="#fff" stroke="#111" stroke-width="0.7"/>
<circle cx="660.60" cy="699.30" r="2.0" fill="#fff" stroke="#111" stroke-width="0.7"/>
<circle cx="654.20" cy="700.80" r="2.0" fill="#fff" stroke="#111" stroke-width="0.7"/>
<rect x="578.4" y="697.4" width="11.4" height="2.8" fill="#1a7ef5"/>
<path d="M649.60,695.3H659.20M654.40,695.3V699.6M649.60,699.6H659.20" stroke="#1a7ef5" stroke-width="2.4" fill="none"/>
<text x="512.20" y="755.00" font-size="16" text-anchor="start" textLength="171.4" lengthAdjust="spacingAndGlyphs">Weeks post transplant</text>
<text x="484.6" y="594" font-size="16.5" text-anchor="middle" transform="rotate(-90 484.6 594)" textLength="182" lengthAdjust="spacingAndGlyphs">% CCR5<tspan dy="-6" font-size="10">+</tspan><tspan dy="6"> of total CD3</tspan><tspan dy="-6" font-size="10">+</tspan></text>
<line x1="542.90" y1="464.50" x2="583.10" y2="464.50" stroke="#000" stroke-width="2.2"/>
<line x1="562.40" y1="483.60" x2="583.10" y2="483.60" stroke="#000" stroke-width="2.2"/>
<text x="563.20" y="464.20" font-size="20" font-weight="bold" text-anchor="middle" textLength="14.7" lengthAdjust="spacingAndGlyphs">**</text>
<text x="572.80" y="483.50" font-size="20" font-weight="bold" text-anchor="middle" textLength="14.7" lengthAdjust="spacingAndGlyphs">**</text>
<line x1="613.50" y1="464.50" x2="653.70" y2="464.50" stroke="#000" stroke-width="2.2"/>
<line x1="633.00" y1="483.60" x2="653.70" y2="483.60" stroke="#000" stroke-width="2.2"/>
<text x="633.80" y="464.20" font-size="20" font-weight="bold" text-anchor="middle" textLength="14.7" lengthAdjust="spacingAndGlyphs">**</text>
<text x="643.40" y="483.50" font-size="20" font-weight="bold" text-anchor="middle" textLength="14.7" lengthAdjust="spacingAndGlyphs">**</text>
</svg>
</body></html>
